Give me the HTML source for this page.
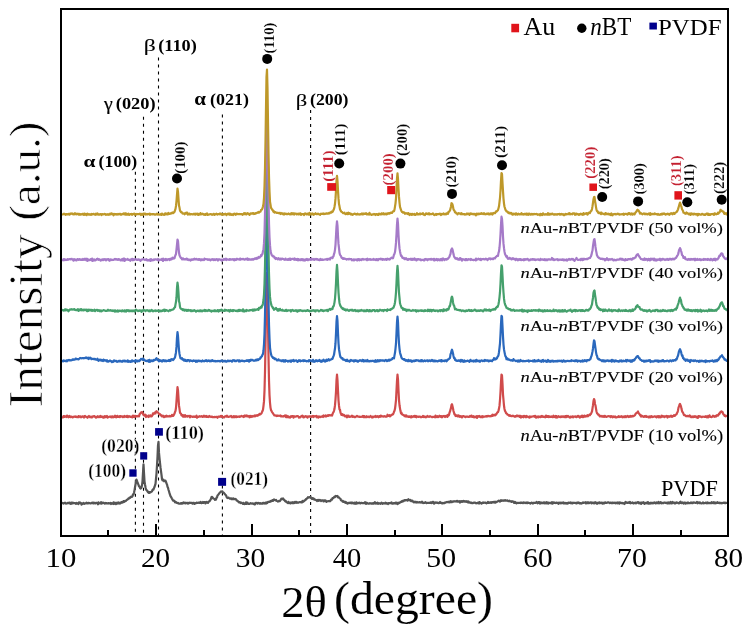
<!DOCTYPE html><html><head><meta charset="utf-8"><style>html,body{margin:0;padding:0;background:#fff;}svg{display:block;will-change:transform;}</style></head><body>
<svg width="745" height="626" viewBox="0 0 745 626" font-family='"Liberation Serif", serif'>
<rect width="745" height="626" fill="#fff"/>
<line x1="135.4" y1="171.8" x2="135.4" y2="535" stroke="#000" stroke-width="1.1" stroke-dasharray="3,4"/>
<line x1="143.5" y1="116.7" x2="143.5" y2="535" stroke="#000" stroke-width="1.1" stroke-dasharray="3,4"/>
<line x1="158.5" y1="57.4" x2="158.5" y2="535" stroke="#000" stroke-width="1.1" stroke-dasharray="3,4"/>
<line x1="222.4" y1="114.4" x2="222.4" y2="535" stroke="#000" stroke-width="1.1" stroke-dasharray="3,4"/>
<line x1="310.6" y1="110.0" x2="310.6" y2="535" stroke="#000" stroke-width="1.1" stroke-dasharray="3,4"/>
<polyline fill="none" stroke="#555555" stroke-width="2.2" stroke-linejoin="round" points="62.0,502.98 62.5,502.97 63.0,503.23 63.5,503.62 64.0,503.07 64.5,503.25 65.0,502.61 65.5,503.24 66.0,503.66 66.5,503.52 67.0,503.39 67.5,502.98 68.0,502.80 68.5,503.16 69.0,502.66 69.5,502.70 70.0,503.57 70.5,502.83 71.0,503.92 71.5,502.62 72.0,503.37 72.5,502.73 73.0,503.27 73.5,502.78 74.0,503.21 74.5,503.13 75.0,503.01 75.5,503.40 76.0,503.80 76.5,502.96 77.0,503.55 77.5,503.23 78.0,503.18 78.5,504.07 79.0,502.32 79.5,502.92 80.0,502.47 80.5,503.07 81.0,503.10 81.5,504.72 82.0,503.33 82.5,503.92 83.0,503.72 83.5,503.02 84.0,503.39 84.5,503.86 85.0,503.26 85.5,503.28 86.0,503.40 86.5,502.59 87.0,502.87 87.5,503.33 88.0,503.41 88.5,502.83 89.0,503.07 89.5,503.15 90.0,503.13 90.5,503.47 91.0,503.24 91.5,503.26 92.0,502.63 92.5,502.77 93.0,503.32 93.5,502.55 94.0,503.30 94.5,502.93 95.0,502.87 95.5,503.45 96.0,502.92 96.5,502.85 97.0,502.92 97.5,503.22 98.0,504.30 98.5,502.34 99.0,503.19 99.5,503.10 100.0,503.58 100.5,503.04 101.0,502.20 101.5,503.73 102.0,502.76 102.5,503.18 103.0,502.66 103.5,502.78 104.0,503.03 104.5,503.58 105.0,503.58 105.5,503.01 106.0,503.46 106.5,503.11 107.0,503.31 107.5,503.34 108.0,503.53 108.5,503.04 109.0,503.23 109.5,503.38 110.0,503.33 110.5,502.97 111.0,503.98 111.5,503.10 112.0,503.58 112.5,503.35 113.0,503.75 113.5,502.37 114.0,504.06 114.5,503.13 115.0,502.70 115.5,503.23 116.0,504.07 116.5,503.35 117.0,502.63 117.5,502.91 118.0,503.61 118.5,502.46 119.0,502.89 119.5,502.76 120.0,503.66 120.5,502.56 121.0,503.08 121.5,502.14 122.0,501.95 122.5,502.52 123.0,502.21 123.5,501.10 124.0,501.88 124.5,501.70 125.0,500.97 125.5,501.05 126.0,500.78 126.5,500.17 127.0,499.79 127.5,499.41 128.0,499.20 128.5,498.40 129.0,498.53 129.5,497.56 130.0,497.83 130.5,497.40 131.0,496.64 131.5,496.98 132.0,496.93 132.5,496.10 133.0,494.34 133.5,494.58 134.0,492.82 134.5,490.36 135.0,487.25 135.5,484.54 136.0,481.65 136.5,479.57 137.0,480.83 137.5,482.46 138.0,483.63 138.5,484.96 139.0,486.45 139.5,486.47 140.0,488.02 140.5,488.56 141.0,488.28 141.5,487.51 142.0,485.30 142.5,481.27 143.0,472.71 143.5,464.27 144.0,472.96 144.5,481.30 145.0,484.51 145.5,487.27 146.0,489.43 146.5,490.03 147.0,490.44 147.5,491.45 148.0,492.27 148.5,491.84 149.0,492.91 149.5,492.86 150.0,492.19 150.5,492.33 151.0,491.97 151.5,491.80 152.0,491.29 152.5,489.92 153.0,489.29 153.5,489.49 154.0,488.14 154.5,487.01 155.0,485.38 155.5,483.82 156.0,478.68 156.5,473.55 157.0,465.66 157.5,456.71 158.0,445.35 158.5,441.91 159.0,452.90 159.5,458.01 160.0,462.79 160.5,467.47 161.0,471.04 161.5,474.87 162.0,479.00 162.5,480.37 163.0,479.97 163.5,479.70 164.0,481.27 164.5,480.87 165.0,480.73 165.5,480.67 166.0,481.82 166.5,483.44 167.0,484.38 167.5,486.83 168.0,487.83 168.5,489.83 169.0,491.25 169.5,493.13 170.0,494.64 170.5,496.13 171.0,496.89 171.5,497.78 172.0,498.83 172.5,499.51 173.0,500.63 173.5,500.48 174.0,500.56 174.5,501.32 175.0,502.25 175.5,501.78 176.0,502.33 176.5,502.44 177.0,502.98 177.5,503.12 178.0,502.84 178.5,503.16 179.0,503.66 179.5,503.72 180.0,503.65 180.5,503.62 181.0,503.14 181.5,503.13 182.0,503.63 182.5,502.79 183.0,503.23 183.5,502.50 184.0,503.08 184.5,502.94 185.0,502.73 185.5,503.43 186.0,502.89 186.5,503.03 187.0,503.06 187.5,502.86 188.0,503.70 188.5,502.93 189.0,503.19 189.5,502.58 190.0,502.90 190.5,502.95 191.0,502.94 191.5,502.82 192.0,503.09 192.5,503.64 193.0,502.96 193.5,502.94 194.0,502.82 194.5,503.97 195.0,503.59 195.5,503.15 196.0,503.20 196.5,502.62 197.0,502.82 197.5,502.95 198.0,502.89 198.5,502.48 199.0,502.49 199.5,502.99 200.0,502.88 200.5,501.90 201.0,502.75 201.5,503.19 202.0,502.41 202.5,502.73 203.0,502.03 203.5,502.91 204.0,502.11 204.5,502.03 205.0,502.37 205.5,503.41 206.0,502.19 206.5,501.89 207.0,502.53 207.5,502.38 208.0,502.88 208.5,501.64 209.0,501.37 209.5,501.31 210.0,500.67 210.5,499.59 211.0,498.84 211.5,497.00 212.0,496.87 212.5,497.27 213.0,498.12 213.5,498.59 214.0,498.83 214.5,499.00 215.0,499.81 215.5,499.50 216.0,499.59 216.5,497.65 217.0,497.49 217.5,495.51 218.0,495.02 218.5,494.36 219.0,493.80 219.5,492.97 220.0,492.46 220.5,492.08 221.0,491.47 221.5,491.63 222.0,491.26 222.5,491.48 223.0,492.46 223.5,492.54 224.0,493.09 224.5,493.63 225.0,494.22 225.5,495.04 226.0,495.21 226.5,496.72 227.0,497.59 227.5,498.01 228.0,497.76 228.5,497.51 229.0,498.08 229.5,498.40 230.0,498.73 230.5,498.38 231.0,498.38 231.5,499.16 232.0,498.35 232.5,499.11 233.0,499.15 233.5,498.39 234.0,499.18 234.5,499.03 235.0,499.08 235.5,498.95 236.0,499.31 236.5,500.37 237.0,500.45 237.5,501.19 238.0,501.18 238.5,501.96 239.0,502.38 239.5,502.13 240.0,502.17 240.5,503.07 241.0,503.02 241.5,502.65 242.0,503.03 242.5,503.39 243.0,503.90 243.5,502.86 244.0,503.50 244.5,504.13 245.0,503.35 245.5,503.94 246.0,502.36 246.5,503.98 247.0,503.42 247.5,502.70 248.0,503.77 248.5,503.89 249.0,503.96 249.5,503.96 250.0,503.48 250.5,503.19 251.0,503.30 251.5,503.47 252.0,503.65 252.5,503.29 253.0,503.50 253.5,503.82 254.0,503.60 254.5,504.37 255.0,504.31 255.5,502.99 256.0,503.21 256.5,502.90 257.0,502.95 257.5,503.62 258.0,502.99 258.5,502.96 259.0,503.25 259.5,503.66 260.0,503.19 260.5,503.17 261.0,503.65 261.5,503.46 262.0,503.43 262.5,503.60 263.0,502.80 263.5,503.26 264.0,502.90 264.5,503.54 265.0,503.42 265.5,502.65 266.0,503.52 266.5,502.41 267.0,503.19 267.5,502.64 268.0,502.03 268.5,501.74 269.0,501.88 269.5,501.80 270.0,501.36 270.5,501.71 271.0,500.78 271.5,501.17 272.0,501.01 272.5,500.09 273.0,500.79 273.5,500.00 274.0,499.37 274.5,500.00 275.0,500.07 275.5,500.46 276.0,499.90 276.5,500.81 277.0,501.06 277.5,501.22 278.0,501.58 278.5,501.32 279.0,500.90 279.5,501.14 280.0,500.90 280.5,500.17 281.0,499.53 281.5,498.61 282.0,499.20 282.5,498.93 283.0,498.35 283.5,499.20 284.0,499.90 284.5,500.12 285.0,501.05 285.5,501.59 286.0,501.16 286.5,501.93 287.0,502.41 287.5,502.73 288.0,503.07 288.5,501.85 289.0,502.68 289.5,503.05 290.0,503.28 290.5,503.46 291.0,502.41 291.5,502.62 292.0,502.34 292.5,503.08 293.0,502.20 293.5,503.18 294.0,503.06 294.5,502.86 295.0,501.77 295.5,502.33 296.0,502.87 296.5,501.97 297.0,502.40 297.5,502.41 298.0,502.76 298.5,502.48 299.0,502.42 299.5,502.09 300.0,502.21 300.5,502.10 301.0,502.39 301.5,501.94 302.0,502.28 302.5,500.97 303.0,501.86 303.5,501.00 304.0,501.17 304.5,500.38 305.0,500.30 305.5,500.17 306.0,498.96 306.5,498.84 307.0,498.40 307.5,498.23 308.0,497.22 308.5,497.58 309.0,497.39 309.5,497.09 310.0,497.32 310.5,496.86 311.0,498.19 311.5,498.03 312.0,498.86 312.5,498.06 313.0,498.25 313.5,499.14 314.0,498.66 314.5,499.69 315.0,499.55 315.5,499.87 316.0,500.20 316.5,500.19 317.0,500.98 317.5,500.54 318.0,499.81 318.5,500.76 319.0,499.87 319.5,500.48 320.0,499.97 320.5,500.17 321.0,501.06 321.5,500.35 322.0,500.35 322.5,500.42 323.0,500.56 323.5,501.32 324.0,500.33 324.5,500.38 325.0,501.21 325.5,500.45 326.0,501.06 326.5,501.77 327.0,501.40 327.5,501.27 328.0,501.20 328.5,501.07 329.0,501.06 329.5,501.14 330.0,501.30 330.5,500.85 331.0,499.86 331.5,499.38 332.0,499.52 332.5,498.07 333.0,498.19 333.5,497.81 334.0,497.11 334.5,496.80 335.0,497.03 335.5,495.98 336.0,496.11 336.5,496.13 337.0,496.44 337.5,496.02 338.0,497.28 338.5,497.11 339.0,497.59 339.5,498.05 340.0,498.47 340.5,498.89 341.0,500.27 341.5,500.39 342.0,500.69 342.5,501.47 343.0,501.04 343.5,501.82 344.0,501.82 344.5,501.69 345.0,502.58 345.5,501.88 346.0,502.93 346.5,502.47 347.0,503.11 347.5,503.58 348.0,503.30 348.5,502.84 349.0,503.07 349.5,502.94 350.0,502.63 350.5,502.66 351.0,503.13 351.5,503.33 352.0,502.42 352.5,503.10 353.0,503.33 353.5,503.18 354.0,502.74 354.5,503.56 355.0,502.67 355.5,503.41 356.0,503.80 356.5,502.35 357.0,503.27 357.5,503.30 358.0,503.27 358.5,502.87 359.0,503.06 359.5,502.63 360.0,503.24 360.5,503.41 361.0,502.93 361.5,502.83 362.0,503.02 362.5,503.20 363.0,503.23 363.5,503.17 364.0,503.24 364.5,502.70 365.0,502.13 365.5,503.47 366.0,503.79 366.5,502.66 367.0,502.96 367.5,503.35 368.0,503.61 368.5,503.49 369.0,503.74 369.5,503.22 370.0,503.40 370.5,503.40 371.0,503.07 371.5,503.72 372.0,503.49 372.5,503.64 373.0,503.09 373.5,503.66 374.0,502.83 374.5,503.41 375.0,502.21 375.5,502.85 376.0,503.55 376.5,503.08 377.0,503.32 377.5,502.61 378.0,503.87 378.5,503.49 379.0,503.25 379.5,503.42 380.0,503.39 380.5,503.82 381.0,503.34 381.5,502.68 382.0,503.16 382.5,503.77 383.0,503.49 383.5,503.09 384.0,503.50 384.5,503.31 385.0,503.50 385.5,502.63 386.0,502.90 386.5,503.52 387.0,503.17 387.5,503.39 388.0,504.02 388.5,503.12 389.0,503.33 389.5,503.01 390.0,502.98 390.5,503.19 391.0,502.63 391.5,502.36 392.0,503.73 392.5,503.14 393.0,503.61 393.5,503.20 394.0,503.20 394.5,503.40 395.0,503.40 395.5,502.63 396.0,503.57 396.5,502.69 397.0,503.14 397.5,504.03 398.0,502.97 398.5,503.50 399.0,502.58 399.5,502.81 400.0,502.42 400.5,502.38 401.0,501.68 401.5,501.46 402.0,501.75 402.5,500.79 403.0,500.86 403.5,501.25 404.0,500.56 404.5,500.27 405.0,500.01 405.5,500.36 406.0,500.03 406.5,500.14 407.0,499.93 407.5,500.70 408.0,499.79 408.5,499.23 409.0,500.13 409.5,500.20 410.0,500.41 410.5,499.88 411.0,501.15 411.5,500.89 412.0,501.10 412.5,500.70 413.0,501.71 413.5,501.69 414.0,502.43 414.5,501.89 415.0,501.70 415.5,502.34 416.0,501.99 416.5,502.54 417.0,501.97 417.5,502.37 418.0,502.35 418.5,502.44 419.0,502.27 419.5,502.18 420.0,502.49 420.5,502.30 421.0,502.61 421.5,502.46 422.0,501.70 422.5,502.57 423.0,503.16 423.5,502.75 424.0,502.88 424.5,502.84 425.0,502.49 425.5,502.16 426.0,503.01 426.5,503.12 427.0,502.94 427.5,502.90 428.0,502.89 428.5,502.74 429.0,502.87 429.5,502.77 430.0,502.90 430.5,502.41 431.0,502.55 431.5,503.02 432.0,502.67 432.5,501.87 433.0,502.87 433.5,501.93 434.0,503.58 434.5,503.12 435.0,503.10 435.5,502.58 436.0,502.41 436.5,502.77 437.0,502.86 437.5,502.55 438.0,502.92 438.5,503.13 439.0,503.09 439.5,502.46 440.0,502.02 440.5,502.86 441.0,502.60 441.5,503.01 442.0,503.45 442.5,503.42 443.0,502.85 443.5,503.12 444.0,503.27 444.5,502.59 445.0,502.61 445.5,502.77 446.0,502.35 446.5,502.10 447.0,501.92 447.5,502.14 448.0,501.82 448.5,502.29 449.0,501.78 449.5,502.40 450.0,502.23 450.5,501.22 451.0,502.05 451.5,501.42 452.0,502.05 452.5,501.68 453.0,501.42 453.5,501.67 454.0,501.17 454.5,501.50 455.0,501.52 455.5,501.31 456.0,501.52 456.5,500.98 457.0,501.59 457.5,500.90 458.0,501.61 458.5,501.55 459.0,501.64 459.5,501.16 460.0,502.54 460.5,501.28 461.0,501.43 461.5,501.08 462.0,501.92 462.5,501.19 463.0,501.76 463.5,501.01 464.0,501.49 464.5,501.23 465.0,501.75 465.5,501.33 466.0,501.19 466.5,501.81 467.0,501.31 467.5,501.54 468.0,502.36 468.5,501.50 469.0,502.67 469.5,502.36 470.0,502.29 470.5,502.84 471.0,503.07 471.5,502.65 472.0,502.81 472.5,503.19 473.0,503.17 473.5,502.86 474.0,502.58 474.5,502.51 475.0,502.64 475.5,503.13 476.0,503.09 476.5,502.98 477.0,503.39 477.5,502.73 478.0,502.70 478.5,502.69 479.0,503.56 479.5,502.03 480.0,502.93 480.5,502.98 481.0,502.82 481.5,503.68 482.0,503.22 482.5,503.06 483.0,502.41 483.5,502.93 484.0,502.59 484.5,502.74 485.0,502.78 485.5,502.51 486.0,502.92 486.5,503.28 487.0,503.04 487.5,502.71 488.0,501.88 488.5,503.01 489.0,502.99 489.5,502.49 490.0,502.36 490.5,502.78 491.0,502.20 491.5,502.79 492.0,502.05 492.5,502.09 493.0,502.43 493.5,501.84 494.0,502.37 494.5,502.52 495.0,501.74 495.5,502.50 496.0,501.82 496.5,502.12 497.0,501.87 497.5,501.47 498.0,501.31 498.5,500.71 499.0,500.96 499.5,500.79 500.0,501.58 500.5,501.22 501.0,500.21 501.5,500.95 502.0,500.66 502.5,500.38 503.0,500.67 503.5,500.80 504.0,500.29 504.5,500.42 505.0,500.61 505.5,500.21 506.0,500.69 506.5,500.64 507.0,500.46 507.5,500.46 508.0,500.96 508.5,501.24 509.0,501.10 509.5,500.72 510.0,501.41 510.5,501.27 511.0,501.51 511.5,501.81 512.0,501.12 512.5,501.55 513.0,501.56 513.5,501.66 514.0,502.97 514.5,502.77 515.0,501.93 515.5,502.92 516.0,502.65 516.5,503.33 517.0,502.93 517.5,502.83 518.0,502.95 518.5,503.04 519.0,502.91 519.5,502.82 520.0,502.85 520.5,503.09 521.0,502.47 521.5,502.90 522.0,502.85 522.5,502.72 523.0,503.18 523.5,502.41 524.0,502.76 524.5,502.58 525.0,503.11 525.5,502.72 526.0,502.92 526.5,503.05 527.0,502.30 527.5,503.07 528.0,502.62 528.5,502.80 529.0,502.86 529.5,503.21 530.0,503.18 530.5,503.57 531.0,502.97 531.5,502.72 532.0,502.71 532.5,503.15 533.0,503.51 533.5,503.03 534.0,502.68 534.5,503.00 535.0,503.00 535.5,502.91 536.0,502.62 536.5,501.94 537.0,502.70 537.5,503.30 538.0,502.98 538.5,502.06 539.0,502.90 539.5,502.20 540.0,503.65 540.5,502.97 541.0,502.44 541.5,503.20 542.0,502.60 542.5,503.11 543.0,502.91 543.5,502.45 544.0,503.15 544.5,502.39 545.0,503.41 545.5,502.92 546.0,502.51 546.5,502.21 547.0,503.51 547.5,503.45 548.0,502.42 548.5,503.52 549.0,502.96 549.5,502.82 550.0,502.87 550.5,502.80 551.0,503.44 551.5,502.96 552.0,502.20 552.5,503.69 553.0,503.23 553.5,502.49 554.0,502.77 554.5,502.56 555.0,502.92 555.5,503.05 556.0,502.99 556.5,502.67 557.0,502.60 557.5,503.22 558.0,502.86 558.5,503.75 559.0,502.59 559.5,503.20 560.0,502.92 560.5,502.61 561.0,503.42 561.5,502.95 562.0,502.56 562.5,502.78 563.0,503.28 563.5,502.44 564.0,503.42 564.5,503.16 565.0,502.79 565.5,503.41 566.0,503.56 566.5,503.13 567.0,502.96 567.5,503.60 568.0,503.47 568.5,502.55 569.0,502.82 569.5,502.82 570.0,502.74 570.5,502.33 571.0,503.24 571.5,502.93 572.0,502.94 572.5,503.43 573.0,502.69 573.5,502.88 574.0,503.00 574.5,502.74 575.0,502.86 575.5,503.19 576.0,502.90 576.5,503.41 577.0,502.61 577.5,502.98 578.0,502.36 578.5,502.86 579.0,502.63 579.5,503.42 580.0,503.18 580.5,503.09 581.0,503.60 581.5,503.45 582.0,503.17 582.5,502.64 583.0,502.35 583.5,502.89 584.0,502.76 584.5,502.65 585.0,502.79 585.5,502.27 586.0,503.47 586.5,502.47 587.0,502.64 587.5,503.12 588.0,502.28 588.5,503.25 589.0,503.26 589.5,502.78 590.0,502.49 590.5,502.72 591.0,502.19 591.5,503.43 592.0,502.92 592.5,502.62 593.0,502.55 593.5,503.12 594.0,503.47 594.5,502.41 595.0,502.68 595.5,502.23 596.0,503.16 596.5,502.96 597.0,503.76 597.5,502.85 598.0,502.73 598.5,502.63 599.0,503.23 599.5,502.28 600.0,503.19 600.5,502.99 601.0,502.71 601.5,502.55 602.0,503.30 602.5,503.61 603.0,502.73 603.5,503.10 604.0,503.57 604.5,502.66 605.0,502.80 605.5,502.43 606.0,502.84 606.5,502.87 607.0,502.74 607.5,502.62 608.0,502.29 608.5,502.38 609.0,502.52 609.5,503.15 610.0,502.70 610.5,502.57 611.0,503.15 611.5,503.12 612.0,502.61 612.5,502.66 613.0,503.15 613.5,503.04 614.0,502.58 614.5,502.99 615.0,502.89 615.5,503.33 616.0,502.57 616.5,503.24 617.0,503.07 617.5,502.51 618.0,503.31 618.5,503.25 619.0,502.39 619.5,503.66 620.0,502.46 620.5,502.55 621.0,502.78 621.5,503.20 622.0,503.13 622.5,502.86 623.0,503.43 623.5,503.06 624.0,503.44 624.5,503.99 625.0,502.97 625.5,501.90 626.0,502.72 626.5,502.48 627.0,502.94 627.5,502.94 628.0,502.42 628.5,502.45 629.0,502.80 629.5,502.82 630.0,501.89 630.5,503.28 631.0,502.91 631.5,502.90 632.0,503.02 632.5,502.50 633.0,502.88 633.5,503.31 634.0,503.32 634.5,503.08 635.0,502.79 635.5,502.58 636.0,503.42 636.5,503.11 637.0,502.73 637.5,502.05 638.0,502.56 638.5,502.14 639.0,503.39 639.5,502.97 640.0,502.61 640.5,502.79 641.0,503.92 641.5,503.38 642.0,502.37 642.5,502.85 643.0,502.41 643.5,502.22 644.0,502.97 644.5,503.85 645.0,503.52 645.5,502.92 646.0,502.75 646.5,502.98 647.0,503.31 647.5,502.32 648.0,502.16 648.5,503.64 649.0,503.01 649.5,503.54 650.0,502.99 650.5,503.48 651.0,502.65 651.5,503.09 652.0,503.51 652.5,503.30 653.0,502.71 653.5,503.25 654.0,502.63 654.5,502.32 655.0,503.10 655.5,503.45 656.0,503.23 656.5,502.39 657.0,503.24 657.5,503.16 658.0,502.70 658.5,501.89 659.0,503.29 659.5,503.24 660.0,503.09 660.5,502.19 661.0,502.29 661.5,503.29 662.0,503.21 662.5,503.08 663.0,502.78 663.5,503.04 664.0,502.66 664.5,502.75 665.0,502.53 665.5,502.98 666.0,502.71 666.5,503.26 667.0,503.16 667.5,502.55 668.0,503.61 668.5,502.42 669.0,503.05 669.5,503.31 670.0,503.39 670.5,501.98 671.0,503.27 671.5,503.36 672.0,503.45 672.5,501.97 673.0,502.59 673.5,502.82 674.0,502.68 674.5,503.40 675.0,502.58 675.5,503.35 676.0,503.08 676.5,502.27 677.0,502.45 677.5,502.66 678.0,502.89 678.5,503.25 679.0,502.78 679.5,503.22 680.0,502.21 680.5,501.61 681.0,502.71 681.5,503.03 682.0,502.70 682.5,502.43 683.0,503.01 683.5,503.62 684.0,502.80 684.5,502.54 685.0,502.49 685.5,503.63 686.0,502.82 686.5,503.08 687.0,503.32 687.5,503.26 688.0,502.45 688.5,503.21 689.0,503.17 689.5,503.02 690.0,503.23 690.5,502.59 691.0,502.79 691.5,502.60 692.0,503.12 692.5,502.55 693.0,502.97 693.5,502.37 694.0,502.76 694.5,502.66 695.0,502.76 695.5,502.86 696.0,502.73 696.5,502.71 697.0,501.96 697.5,503.25 698.0,502.55 698.5,502.70 699.0,502.46 699.5,503.20 700.0,502.43 700.5,502.99 701.0,503.27 701.5,503.45 702.0,503.27 702.5,503.03 703.0,502.30 703.5,503.30 704.0,503.26 704.5,503.12 705.0,503.10 705.5,502.81 706.0,502.57 706.5,503.21 707.0,503.29 707.5,502.35 708.0,503.14 708.5,502.87 709.0,503.12 709.5,502.88 710.0,503.21 710.5,503.18 711.0,503.12 711.5,502.20 712.0,503.09 712.5,502.78 713.0,502.30 713.5,503.04 714.0,502.20 714.5,503.11 715.0,503.43 715.5,502.55 716.0,503.12 716.5,502.93 717.0,503.01 717.5,502.20 718.0,502.99 718.5,502.79 719.0,503.04 719.5,502.74 720.0,503.18 720.5,502.84 721.0,503.00 721.5,503.28 722.0,502.80 722.5,503.13 723.0,502.82 723.5,502.93 724.0,502.51 724.5,503.03 725.0,503.21 725.5,502.69 726.0,503.03 726.5,502.89 727.0,502.27"/>
<polyline fill="none" stroke="#d04b4b" stroke-width="2.2" stroke-linejoin="round" points="62.0,416.37 62.5,417.50 63.0,417.38 63.5,416.06 64.0,416.18 64.5,416.96 65.0,416.25 65.5,416.67 66.0,416.58 66.5,417.04 67.0,415.65 67.5,415.80 68.0,416.24 68.5,417.24 69.0,416.72 69.5,416.02 70.0,417.01 70.5,417.11 71.0,416.68 71.5,416.64 72.0,416.98 72.5,417.33 73.0,416.86 73.5,417.03 74.0,416.76 74.5,416.61 75.0,416.37 75.5,416.90 76.0,416.65 76.5,416.68 77.0,417.20 77.5,417.00 78.0,417.18 78.5,416.08 79.0,417.04 79.5,416.52 80.0,416.42 80.5,416.40 81.0,417.33 81.5,417.16 82.0,416.46 82.5,416.27 83.0,416.79 83.5,416.58 84.0,417.53 84.5,416.13 85.0,415.96 85.5,416.67 86.0,416.79 86.5,416.84 87.0,417.12 87.5,417.72 88.0,416.63 88.5,416.54 89.0,415.99 89.5,416.89 90.0,417.17 90.5,416.66 91.0,417.31 91.5,416.79 92.0,417.46 92.5,416.93 93.0,416.30 93.5,416.49 94.0,416.09 94.5,416.00 95.0,416.90 95.5,417.17 96.0,417.66 96.5,416.75 97.0,416.67 97.5,416.28 98.0,417.22 98.5,416.95 99.0,416.51 99.5,417.09 100.0,417.03 100.5,415.93 101.0,417.11 101.5,416.84 102.0,416.60 102.5,416.59 103.0,417.56 103.5,417.46 104.0,417.59 104.5,416.26 105.0,416.48 105.5,417.18 106.0,416.23 106.5,416.45 107.0,415.96 107.5,417.60 108.0,417.25 108.5,416.97 109.0,416.87 109.5,416.58 110.0,416.59 110.5,417.04 111.0,416.45 111.5,417.32 112.0,416.54 112.5,416.37 113.0,417.35 113.5,416.70 114.0,417.01 114.5,416.57 115.0,415.75 115.5,417.00 116.0,416.15 116.5,417.24 117.0,416.06 117.5,415.92 118.0,416.89 118.5,416.94 119.0,416.80 119.5,416.20 120.0,417.15 120.5,416.09 121.0,416.54 121.5,416.39 122.0,416.57 122.5,417.12 123.0,416.45 123.5,416.99 124.0,417.05 124.5,415.96 125.0,416.20 125.5,416.55 126.0,416.46 126.5,416.86 127.0,415.85 127.5,417.04 128.0,417.04 128.5,416.63 129.0,416.08 129.5,416.70 130.0,416.45 130.5,416.94 131.0,416.64 131.5,416.99 132.0,416.46 132.5,417.29 133.0,415.60 133.5,416.16 134.0,416.82 134.5,415.90 135.0,416.89 135.5,415.98 136.0,416.53 136.5,416.03 137.0,416.18 137.5,416.34 138.0,416.05 138.5,415.64 139.0,416.34 139.5,414.75 140.0,413.49 140.5,413.40 141.0,412.50 141.5,412.23 142.0,412.68 142.5,412.17 143.0,413.99 143.5,414.89 144.0,415.07 144.5,415.68 145.0,414.54 145.5,415.82 146.0,416.99 146.5,415.44 147.0,416.04 147.5,416.42 148.0,416.54 148.5,417.00 149.0,415.43 149.5,416.19 150.0,416.47 150.5,415.37 151.0,415.78 151.5,416.44 152.0,415.90 152.5,415.21 153.0,413.38 153.5,414.02 154.0,413.72 154.5,412.86 155.0,412.45 155.5,413.43 156.0,411.66 156.5,411.25 157.0,411.95 157.5,412.05 158.0,412.53 158.5,413.17 159.0,414.10 159.5,414.37 160.0,414.17 160.5,415.04 161.0,415.62 161.5,415.45 162.0,416.37 162.5,416.34 163.0,415.65 163.5,416.32 164.0,417.12 164.5,416.96 165.0,416.26 165.5,416.70 166.0,416.00 166.5,415.65 167.0,416.55 167.5,416.40 168.0,416.50 168.5,416.23 169.0,416.35 169.5,415.93 170.0,416.32 170.5,416.41 171.0,415.92 171.5,416.19 172.0,414.88 172.5,415.13 173.0,415.88 173.5,415.68 174.0,414.51 174.5,413.63 175.0,411.98 175.5,410.82 176.0,407.71 176.5,401.05 177.0,393.72 177.5,387.18 178.0,390.34 178.5,398.16 179.0,405.69 179.5,408.90 180.0,412.60 180.5,413.38 181.0,413.65 181.5,415.35 182.0,415.67 182.5,415.15 183.0,416.66 183.5,415.38 184.0,416.11 184.5,416.61 185.0,415.14 185.5,416.68 186.0,416.26 186.5,416.33 187.0,415.90 187.5,416.57 188.0,415.95 188.5,416.04 189.0,416.30 189.5,415.97 190.0,417.25 190.5,415.96 191.0,416.23 191.5,416.44 192.0,416.60 192.5,416.96 193.0,416.98 193.5,416.49 194.0,416.46 194.5,416.65 195.0,417.01 195.5,416.96 196.0,416.42 196.5,415.73 197.0,417.63 197.5,417.10 198.0,416.79 198.5,416.83 199.0,416.45 199.5,416.23 200.0,416.54 200.5,416.59 201.0,416.41 201.5,416.04 202.0,416.55 202.5,416.96 203.0,416.48 203.5,416.71 204.0,415.77 204.5,416.61 205.0,416.65 205.5,416.15 206.0,415.93 206.5,416.89 207.0,416.34 207.5,416.93 208.0,416.52 208.5,416.99 209.0,416.56 209.5,416.03 210.0,416.67 210.5,416.57 211.0,417.01 211.5,416.51 212.0,416.54 212.5,417.10 213.0,417.24 213.5,417.06 214.0,417.18 214.5,416.92 215.0,417.06 215.5,417.11 216.0,416.89 216.5,416.74 217.0,416.78 217.5,417.79 218.0,416.72 218.5,416.60 219.0,416.55 219.5,416.69 220.0,416.82 220.5,416.20 221.0,415.82 221.5,416.84 222.0,415.98 222.5,416.82 223.0,416.77 223.5,417.22 224.0,417.45 224.5,416.86 225.0,416.45 225.5,416.17 226.0,416.34 226.5,416.71 227.0,415.76 227.5,416.72 228.0,416.68 228.5,416.98 229.0,416.53 229.5,416.73 230.0,416.35 230.5,416.47 231.0,415.88 231.5,416.73 232.0,417.37 232.5,416.74 233.0,416.83 233.5,416.22 234.0,417.30 234.5,416.31 235.0,417.01 235.5,416.69 236.0,416.21 236.5,417.10 237.0,416.64 237.5,416.71 238.0,416.83 238.5,416.61 239.0,416.44 239.5,416.82 240.0,416.42 240.5,416.62 241.0,416.29 241.5,415.91 242.0,416.27 242.5,416.34 243.0,416.56 243.5,417.08 244.0,415.77 244.5,416.58 245.0,415.52 245.5,416.03 246.0,416.26 246.5,415.46 247.0,415.62 247.5,416.51 248.0,416.46 248.5,416.35 249.0,416.02 249.5,417.33 250.0,416.26 250.5,415.92 251.0,417.03 251.5,416.52 252.0,416.04 252.5,416.70 253.0,416.19 253.5,416.36 254.0,416.12 254.5,415.49 255.0,416.32 255.5,415.88 256.0,415.26 256.5,415.27 257.0,415.93 257.5,415.20 258.0,415.22 258.5,415.31 259.0,414.85 259.5,413.84 260.0,414.48 260.5,414.22 261.0,413.69 261.5,413.39 262.0,412.00 262.5,411.04 263.0,409.68 263.5,405.85 264.0,401.15 264.5,390.59 265.0,371.92 265.5,345.10 266.0,311.10 266.5,280.69 267.0,272.90 267.5,291.58 268.0,324.63 268.5,356.30 269.0,380.54 269.5,395.05 270.0,402.74 270.5,407.61 271.0,410.08 271.5,410.87 272.0,412.00 272.5,412.76 273.0,413.23 273.5,414.12 274.0,414.79 274.5,415.48 275.0,415.42 275.5,415.55 276.0,415.78 276.5,416.01 277.0,415.37 277.5,415.96 278.0,415.89 278.5,415.78 279.0,415.70 279.5,415.75 280.0,415.91 280.5,415.53 281.0,416.37 281.5,416.16 282.0,416.26 282.5,416.40 283.0,416.60 283.5,416.04 284.0,416.28 284.5,415.63 285.0,415.38 285.5,415.52 286.0,417.11 286.5,415.61 287.0,416.66 287.5,417.13 288.0,416.27 288.5,417.22 289.0,417.33 289.5,416.94 290.0,417.59 290.5,416.81 291.0,416.21 291.5,416.78 292.0,416.36 292.5,415.98 293.0,416.00 293.5,417.62 294.0,416.34 294.5,416.58 295.0,416.30 295.5,416.66 296.0,416.50 296.5,416.42 297.0,416.07 297.5,415.98 298.0,416.29 298.5,416.76 299.0,417.56 299.5,417.10 300.0,417.45 300.5,416.85 301.0,416.60 301.5,416.04 302.0,416.64 302.5,415.68 303.0,416.51 303.5,417.38 304.0,416.80 304.5,417.16 305.0,416.48 305.5,416.03 306.0,416.43 306.5,416.47 307.0,417.19 307.5,417.54 308.0,416.32 308.5,416.49 309.0,416.58 309.5,416.49 310.0,416.09 310.5,416.69 311.0,416.81 311.5,416.81 312.0,416.10 312.5,416.59 313.0,415.85 313.5,417.04 314.0,416.17 314.5,416.50 315.0,416.42 315.5,416.35 316.0,416.13 316.5,415.81 317.0,417.38 317.5,416.71 318.0,416.70 318.5,417.52 319.0,416.52 319.5,416.81 320.0,416.56 320.5,417.07 321.0,416.75 321.5,416.65 322.0,416.38 322.5,416.60 323.0,416.98 323.5,415.50 324.0,416.35 324.5,416.19 325.0,416.22 325.5,415.43 326.0,416.61 326.5,415.85 327.0,416.08 327.5,415.89 328.0,415.29 328.5,415.76 329.0,415.03 329.5,415.32 330.0,415.45 330.5,415.41 331.0,415.22 331.5,414.84 332.0,415.50 332.5,414.25 333.0,412.85 333.5,412.19 334.0,410.80 334.5,408.86 335.0,405.16 335.5,399.34 336.0,391.76 336.5,380.44 337.0,374.61 337.5,380.31 338.0,390.92 338.5,400.35 339.0,405.65 339.5,409.45 340.0,409.69 340.5,412.62 341.0,413.88 341.5,414.95 342.0,414.56 342.5,414.14 343.0,415.46 343.5,415.15 344.0,414.79 344.5,415.47 345.0,416.34 345.5,416.51 346.0,416.37 346.5,415.65 347.0,417.32 347.5,415.71 348.0,416.25 348.5,415.67 349.0,416.95 349.5,416.59 350.0,416.82 350.5,416.48 351.0,416.43 351.5,416.56 352.0,415.65 352.5,416.96 353.0,416.94 353.5,416.37 354.0,416.55 354.5,416.70 355.0,417.28 355.5,416.78 356.0,416.61 356.5,416.37 357.0,415.93 357.5,416.35 358.0,416.65 358.5,416.51 359.0,416.67 359.5,416.97 360.0,416.84 360.5,416.77 361.0,416.94 361.5,416.74 362.0,416.64 362.5,416.87 363.0,415.88 363.5,417.23 364.0,416.08 364.5,417.04 365.0,416.67 365.5,417.17 366.0,416.68 366.5,416.24 367.0,417.15 367.5,416.75 368.0,416.72 368.5,416.71 369.0,417.12 369.5,417.04 370.0,416.77 370.5,415.97 371.0,416.48 371.5,416.71 372.0,417.47 372.5,416.83 373.0,416.61 373.5,417.19 374.0,416.60 374.5,416.63 375.0,416.71 375.5,415.96 376.0,417.07 376.5,416.82 377.0,416.50 377.5,416.10 378.0,416.71 378.5,417.23 379.0,416.31 379.5,416.11 380.0,416.77 380.5,415.85 381.0,415.55 381.5,416.34 382.0,416.22 382.5,416.39 383.0,416.24 383.5,416.62 384.0,416.35 384.5,416.16 385.0,416.19 385.5,416.65 386.0,416.76 386.5,416.70 387.0,416.56 387.5,414.71 388.0,415.68 388.5,415.92 389.0,416.06 389.5,415.14 390.0,416.39 390.5,415.74 391.0,415.14 391.5,415.27 392.0,414.75 392.5,414.19 393.0,414.27 393.5,413.17 394.0,411.80 394.5,410.76 395.0,408.82 395.5,404.83 396.0,400.11 396.5,390.25 397.0,380.80 397.5,374.69 398.0,379.59 398.5,390.80 399.0,400.08 399.5,405.24 400.0,408.34 400.5,411.10 401.0,413.34 401.5,412.71 402.0,414.30 402.5,414.54 403.0,414.86 403.5,415.02 404.0,415.28 404.5,416.07 405.0,416.02 405.5,415.43 406.0,416.68 406.5,415.48 407.0,416.44 407.5,416.28 408.0,416.79 408.5,416.46 409.0,416.82 409.5,416.37 410.0,416.85 410.5,416.59 411.0,417.43 411.5,416.17 412.0,417.04 412.5,416.73 413.0,416.62 413.5,416.30 414.0,416.77 414.5,415.92 415.0,415.98 415.5,416.92 416.0,415.91 416.5,417.27 417.0,416.51 417.5,416.75 418.0,416.68 418.5,416.84 419.0,416.53 419.5,416.50 420.0,416.61 420.5,417.14 421.0,417.18 421.5,417.25 422.0,416.85 422.5,416.59 423.0,415.93 423.5,416.98 424.0,417.07 424.5,416.51 425.0,417.06 425.5,417.28 426.0,416.74 426.5,417.18 427.0,416.84 427.5,415.92 428.0,416.49 428.5,416.52 429.0,416.94 429.5,416.31 430.0,416.50 430.5,416.27 431.0,416.68 431.5,416.73 432.0,417.14 432.5,417.05 433.0,416.77 433.5,416.80 434.0,416.74 434.5,416.74 435.0,417.38 435.5,415.56 436.0,416.60 436.5,416.81 437.0,417.17 437.5,416.17 438.0,416.81 438.5,417.03 439.0,416.43 439.5,415.76 440.0,416.45 440.5,416.06 441.0,416.88 441.5,416.18 442.0,417.35 442.5,416.59 443.0,416.13 443.5,416.24 444.0,415.93 444.5,416.55 445.0,416.99 445.5,416.15 446.0,416.58 446.5,415.63 447.0,416.05 447.5,416.76 448.0,414.83 448.5,415.63 449.0,415.00 449.5,412.69 450.0,411.47 450.5,409.62 451.0,407.91 451.5,404.86 452.0,404.25 452.5,406.23 453.0,408.60 453.5,411.06 454.0,412.61 454.5,414.47 455.0,414.39 455.5,416.00 456.0,415.42 456.5,415.44 457.0,416.26 457.5,416.30 458.0,415.31 458.5,416.37 459.0,415.73 459.5,416.02 460.0,416.79 460.5,416.08 461.0,416.66 461.5,416.35 462.0,417.41 462.5,416.52 463.0,416.05 463.5,416.09 464.0,416.20 464.5,416.67 465.0,416.62 465.5,417.07 466.0,416.71 466.5,416.70 467.0,416.79 467.5,416.59 468.0,416.79 468.5,417.01 469.0,417.01 469.5,416.42 470.0,415.87 470.5,416.30 471.0,416.79 471.5,415.55 472.0,416.45 472.5,416.87 473.0,416.41 473.5,416.16 474.0,417.45 474.5,417.28 475.0,416.54 475.5,417.25 476.0,417.24 476.5,416.14 477.0,417.85 477.5,416.22 478.0,416.52 478.5,416.14 479.0,416.66 479.5,416.03 480.0,416.61 480.5,417.10 481.0,416.70 481.5,416.48 482.0,417.28 482.5,416.17 483.0,417.00 483.5,416.42 484.0,416.64 484.5,416.54 485.0,416.57 485.5,416.47 486.0,416.13 486.5,416.20 487.0,416.64 487.5,416.37 488.0,415.86 488.5,416.04 489.0,416.01 489.5,416.26 490.0,416.32 490.5,416.23 491.0,415.84 491.5,416.08 492.0,415.38 492.5,414.61 493.0,415.79 493.5,414.95 494.0,415.12 494.5,414.84 495.0,415.45 495.5,414.37 496.0,414.71 496.5,413.95 497.0,413.07 497.5,412.20 498.0,412.11 498.5,410.63 499.0,408.61 499.5,405.68 500.0,399.72 500.5,392.02 501.0,382.15 501.5,374.67 502.0,375.46 502.5,383.78 503.0,394.53 503.5,399.99 504.0,405.77 504.5,408.97 505.0,410.86 505.5,411.70 506.0,412.98 506.5,413.54 507.0,413.77 507.5,414.63 508.0,414.78 508.5,414.96 509.0,415.71 509.5,415.09 510.0,415.91 510.5,415.55 511.0,416.11 511.5,416.04 512.0,416.18 512.5,415.70 513.0,415.84 513.5,415.85 514.0,416.36 514.5,416.65 515.0,416.84 515.5,416.16 516.0,416.45 516.5,415.71 517.0,415.46 517.5,416.08 518.0,416.19 518.5,415.81 519.0,415.72 519.5,416.78 520.0,416.19 520.5,415.80 521.0,417.61 521.5,416.66 522.0,416.45 522.5,416.90 523.0,416.26 523.5,417.32 524.0,415.93 524.5,416.04 525.0,416.57 525.5,416.29 526.0,417.27 526.5,415.93 527.0,416.32 527.5,416.76 528.0,416.91 528.5,417.11 529.0,416.82 529.5,417.66 530.0,416.46 530.5,416.75 531.0,417.06 531.5,416.54 532.0,416.55 532.5,416.47 533.0,416.40 533.5,416.18 534.0,416.44 534.5,416.00 535.0,416.86 535.5,415.98 536.0,417.62 536.5,417.46 537.0,417.19 537.5,416.60 538.0,416.44 538.5,417.25 539.0,416.78 539.5,416.95 540.0,416.38 540.5,417.18 541.0,416.35 541.5,416.75 542.0,415.93 542.5,416.41 543.0,416.93 543.5,416.51 544.0,416.51 544.5,417.06 545.0,416.68 545.5,417.27 546.0,415.63 546.5,416.97 547.0,416.94 547.5,416.02 548.0,416.13 548.5,417.11 549.0,416.23 549.5,416.43 550.0,416.98 550.5,416.57 551.0,416.93 551.5,416.33 552.0,416.85 552.5,417.20 553.0,416.86 553.5,415.73 554.0,417.01 554.5,416.74 555.0,416.31 555.5,417.34 556.0,415.93 556.5,417.55 557.0,416.43 557.5,417.42 558.0,416.69 558.5,416.12 559.0,416.75 559.5,416.86 560.0,416.95 560.5,417.19 561.0,416.31 561.5,416.93 562.0,417.04 562.5,416.59 563.0,416.29 563.5,416.28 564.0,417.04 564.5,417.06 565.0,416.33 565.5,416.10 566.0,417.25 566.5,416.00 567.0,416.77 567.5,416.33 568.0,415.91 568.5,416.75 569.0,416.60 569.5,417.33 570.0,417.70 570.5,416.60 571.0,417.14 571.5,417.15 572.0,416.44 572.5,416.28 573.0,417.39 573.5,416.50 574.0,416.65 574.5,416.53 575.0,416.59 575.5,416.38 576.0,416.98 576.5,417.20 577.0,416.46 577.5,416.00 578.0,416.64 578.5,415.94 579.0,416.31 579.5,417.14 580.0,417.61 580.5,416.73 581.0,416.07 581.5,416.88 582.0,415.51 582.5,416.18 583.0,417.15 583.5,416.78 584.0,415.79 584.5,415.63 585.0,416.72 585.5,416.27 586.0,415.97 586.5,416.35 587.0,415.83 587.5,415.13 588.0,416.24 588.5,415.44 589.0,415.09 589.5,414.69 590.0,415.06 590.5,414.10 591.0,414.01 591.5,412.50 592.0,411.45 592.5,408.40 593.0,405.13 593.5,401.05 594.0,399.01 594.5,400.13 595.0,403.97 595.5,405.54 596.0,408.65 596.5,411.50 597.0,413.10 597.5,413.60 598.0,414.60 598.5,414.30 599.0,415.21 599.5,415.98 600.0,416.49 600.5,415.82 601.0,415.90 601.5,416.31 602.0,416.68 602.5,416.46 603.0,415.96 603.5,416.50 604.0,416.82 604.5,416.10 605.0,415.85 605.5,416.70 606.0,416.66 606.5,416.94 607.0,416.57 607.5,416.26 608.0,416.36 608.5,416.11 609.0,416.16 609.5,416.34 610.0,416.38 610.5,417.11 611.0,416.07 611.5,416.60 612.0,416.36 612.5,417.30 613.0,416.75 613.5,416.47 614.0,417.01 614.5,416.68 615.0,416.44 615.5,417.34 616.0,416.98 616.5,417.43 617.0,417.18 617.5,417.01 618.0,416.72 618.5,416.18 619.0,416.98 619.5,416.70 620.0,416.97 620.5,416.66 621.0,416.36 621.5,416.21 622.0,416.98 622.5,417.24 623.0,416.53 623.5,416.86 624.0,417.27 624.5,416.28 625.0,416.49 625.5,416.14 626.0,417.16 626.5,416.75 627.0,416.42 627.5,415.87 628.0,416.52 628.5,417.04 629.0,416.44 629.5,416.37 630.0,416.82 630.5,415.96 631.0,416.50 631.5,416.70 632.0,416.04 632.5,415.94 633.0,416.32 633.5,416.00 634.0,415.71 634.5,415.57 635.0,415.10 635.5,413.96 636.0,413.32 636.5,413.01 637.0,412.60 637.5,412.35 638.0,411.53 638.5,412.99 639.0,413.64 639.5,414.07 640.0,414.99 640.5,415.67 641.0,416.49 641.5,415.50 642.0,416.42 642.5,416.21 643.0,416.27 643.5,416.93 644.0,416.83 644.5,416.05 645.0,416.40 645.5,416.65 646.0,415.94 646.5,416.97 647.0,416.57 647.5,416.69 648.0,416.77 648.5,417.44 649.0,416.65 649.5,416.49 650.0,417.43 650.5,416.43 651.0,416.42 651.5,416.04 652.0,417.15 652.5,416.79 653.0,416.88 653.5,416.74 654.0,416.61 654.5,416.32 655.0,416.32 655.5,416.86 656.0,416.73 656.5,417.40 657.0,416.33 657.5,416.45 658.0,416.21 658.5,417.28 659.0,416.12 659.5,417.01 660.0,417.30 660.5,416.59 661.0,416.97 661.5,415.70 662.0,416.47 662.5,415.90 663.0,416.71 663.5,416.63 664.0,416.28 664.5,417.03 665.0,416.76 665.5,416.36 666.0,416.35 666.5,415.91 667.0,416.47 667.5,417.48 668.0,416.21 668.5,416.69 669.0,416.23 669.5,416.81 670.0,416.62 670.5,416.29 671.0,415.56 671.5,416.07 672.0,416.78 672.5,416.07 673.0,416.38 673.5,415.79 674.0,415.05 674.5,415.91 675.0,415.65 675.5,414.95 676.0,414.61 676.5,414.29 677.0,413.02 677.5,412.23 678.0,410.42 678.5,407.58 679.0,406.55 679.5,404.67 680.0,403.89 680.5,405.12 681.0,406.39 681.5,408.87 682.0,411.00 682.5,412.14 683.0,412.60 683.5,413.84 684.0,415.19 684.5,415.09 685.0,415.15 685.5,415.68 686.0,416.11 686.5,416.12 687.0,416.39 687.5,415.82 688.0,416.13 688.5,416.19 689.0,416.34 689.5,415.46 690.0,416.32 690.5,415.86 691.0,417.10 691.5,417.20 692.0,417.27 692.5,416.90 693.0,416.34 693.5,417.00 694.0,416.50 694.5,416.87 695.0,416.20 695.5,416.35 696.0,416.83 696.5,417.42 697.0,416.63 697.5,417.65 698.0,417.87 698.5,416.08 699.0,416.64 699.5,416.24 700.0,416.60 700.5,416.43 701.0,416.64 701.5,417.10 702.0,417.09 702.5,416.79 703.0,416.68 703.5,416.73 704.0,416.73 704.5,416.93 705.0,416.68 705.5,416.90 706.0,416.09 706.5,417.02 707.0,417.45 707.5,416.75 708.0,416.03 708.5,417.26 709.0,416.51 709.5,415.32 710.0,416.54 710.5,416.90 711.0,416.79 711.5,417.16 712.0,416.87 712.5,416.64 713.0,415.68 713.5,416.05 714.0,416.59 714.5,416.78 715.0,415.99 715.5,416.12 716.0,416.53 716.5,415.37 717.0,415.21 717.5,415.77 718.0,415.68 718.5,414.93 719.0,413.55 719.5,413.87 720.0,412.44 720.5,412.49 721.0,411.48 721.5,411.38 722.0,411.81 722.5,411.96 723.0,413.41 723.5,414.42 724.0,414.76 724.5,415.74 725.0,415.30 725.5,416.29 726.0,416.21 726.5,415.79 727.0,416.30"/>
<polyline fill="none" stroke="#2a68bd" stroke-width="2.2" stroke-linejoin="round" points="62.0,361.60 62.5,360.98 63.0,361.41 63.5,360.45 64.0,360.97 64.5,360.56 65.0,360.91 65.5,361.14 66.0,361.25 66.5,360.28 67.0,361.26 67.5,360.43 68.0,360.13 68.5,360.46 69.0,359.82 69.5,360.42 70.0,360.48 70.5,360.19 71.0,360.45 71.5,359.99 72.0,360.05 72.5,359.32 73.0,359.89 73.5,359.40 74.0,359.49 74.5,359.55 75.0,359.58 75.5,358.65 76.0,358.58 76.5,359.05 77.0,359.29 77.5,359.14 78.0,359.27 78.5,359.36 79.0,358.90 79.5,358.57 80.0,358.02 80.5,357.97 81.0,358.11 81.5,358.36 82.0,358.27 82.5,358.11 83.0,357.98 83.5,358.28 84.0,358.05 84.5,358.06 85.0,358.05 85.5,357.65 86.0,357.42 86.5,358.11 87.0,358.09 87.5,357.83 88.0,357.77 88.5,359.03 89.0,357.71 89.5,358.01 90.0,358.29 90.5,357.72 91.0,358.37 91.5,359.20 92.0,358.90 92.5,358.86 93.0,358.94 93.5,358.82 94.0,359.30 94.5,358.90 95.0,358.88 95.5,359.22 96.0,359.69 96.5,359.53 97.0,359.79 97.5,358.67 98.0,360.22 98.5,360.83 99.0,360.47 99.5,359.82 100.0,359.66 100.5,360.25 101.0,359.76 101.5,360.60 102.0,360.11 102.5,360.84 103.0,361.09 103.5,359.62 104.0,360.71 104.5,360.32 105.0,360.04 105.5,360.44 106.0,360.66 106.5,361.26 107.0,360.14 107.5,361.33 108.0,361.79 108.5,361.17 109.0,361.17 109.5,360.94 110.0,360.43 110.5,361.22 111.0,361.16 111.5,361.33 112.0,362.17 112.5,361.35 113.0,361.22 113.5,361.74 114.0,360.44 114.5,360.53 115.0,360.88 115.5,360.76 116.0,361.37 116.5,360.92 117.0,361.85 117.5,361.75 118.0,361.41 118.5,360.89 119.0,361.35 119.5,361.43 120.0,360.59 120.5,361.23 121.0,361.39 121.5,361.17 122.0,361.78 122.5,361.61 123.0,360.70 123.5,361.12 124.0,360.69 124.5,361.33 125.0,360.68 125.5,361.48 126.0,361.24 126.5,361.50 127.0,361.00 127.5,360.41 128.0,361.85 128.5,360.98 129.0,361.68 129.5,361.25 130.0,361.36 130.5,361.87 131.0,361.20 131.5,361.68 132.0,360.37 132.5,361.43 133.0,360.93 133.5,360.97 134.0,361.03 134.5,361.18 135.0,361.76 135.5,360.17 136.0,361.02 136.5,360.66 137.0,361.49 137.5,360.75 138.0,361.12 138.5,360.68 139.0,361.06 139.5,361.06 140.0,360.15 140.5,359.97 141.0,358.84 141.5,359.17 142.0,359.23 142.5,358.78 143.0,359.97 143.5,359.00 144.0,359.48 144.5,359.95 145.0,360.52 145.5,360.83 146.0,360.84 146.5,360.87 147.0,361.24 147.5,360.71 148.0,360.36 148.5,360.37 149.0,361.88 149.5,359.86 150.0,360.83 150.5,361.55 151.0,361.09 151.5,360.47 152.0,360.79 152.5,361.09 153.0,361.13 153.5,360.00 154.0,360.50 154.5,359.96 155.0,359.98 155.5,359.76 156.0,358.72 156.5,358.16 157.0,359.14 157.5,360.06 158.0,359.93 158.5,360.06 159.0,361.32 159.5,359.98 160.0,361.01 160.5,360.44 161.0,360.78 161.5,360.84 162.0,361.50 162.5,360.41 163.0,360.60 163.5,360.12 164.0,361.06 164.5,360.63 165.0,361.01 165.5,360.33 166.0,360.64 166.5,361.25 167.0,360.68 167.5,361.02 168.0,360.95 168.5,360.51 169.0,359.93 169.5,361.02 170.0,360.60 170.5,360.89 171.0,359.45 171.5,359.49 172.0,359.13 172.5,359.51 173.0,360.12 173.5,359.56 174.0,358.82 174.5,358.19 175.0,357.38 175.5,355.08 176.0,352.20 176.5,346.63 177.0,337.61 177.5,332.12 178.0,335.98 178.5,343.43 179.0,350.10 179.5,353.88 180.0,356.21 180.5,358.27 181.0,358.47 181.5,358.68 182.0,358.13 182.5,359.56 183.0,359.14 183.5,359.37 184.0,360.68 184.5,360.74 185.0,359.64 185.5,360.96 186.0,360.84 186.5,360.32 187.0,361.05 187.5,360.02 188.0,360.24 188.5,360.16 189.0,360.33 189.5,361.24 190.0,360.26 190.5,360.36 191.0,360.46 191.5,360.99 192.0,360.76 192.5,361.31 193.0,360.61 193.5,360.36 194.0,360.72 194.5,360.97 195.0,360.54 195.5,361.09 196.0,361.79 196.5,360.71 197.0,361.00 197.5,361.59 198.0,360.69 198.5,360.60 199.0,360.50 199.5,361.17 200.0,361.22 200.5,360.93 201.0,361.02 201.5,361.57 202.0,361.39 202.5,360.37 203.0,361.00 203.5,361.05 204.0,361.33 204.5,360.90 205.0,360.71 205.5,360.80 206.0,360.21 206.5,360.99 207.0,360.74 207.5,361.22 208.0,360.54 208.5,360.81 209.0,360.57 209.5,360.53 210.0,361.32 210.5,360.80 211.0,361.21 211.5,360.50 212.0,361.05 212.5,360.24 213.0,360.79 213.5,360.78 214.0,361.27 214.5,361.08 215.0,360.92 215.5,361.38 216.0,361.09 216.5,361.24 217.0,361.34 217.5,360.97 218.0,360.87 218.5,361.14 219.0,360.81 219.5,361.17 220.0,361.49 220.5,361.38 221.0,360.82 221.5,360.41 222.0,360.96 222.5,360.93 223.0,361.48 223.5,360.81 224.0,360.89 224.5,361.31 225.0,360.77 225.5,360.91 226.0,361.75 226.5,361.65 227.0,361.26 227.5,361.09 228.0,360.54 228.5,361.22 229.0,360.99 229.5,361.06 230.0,360.73 230.5,360.95 231.0,360.87 231.5,361.10 232.0,361.59 232.5,361.11 233.0,360.20 233.5,360.51 234.0,360.23 234.5,360.58 235.0,361.18 235.5,361.11 236.0,360.65 236.5,361.04 237.0,360.57 237.5,360.27 238.0,360.27 238.5,360.51 239.0,361.53 239.5,360.29 240.0,361.44 240.5,361.47 241.0,360.79 241.5,360.84 242.0,360.58 242.5,360.83 243.0,361.13 243.5,360.83 244.0,361.26 244.5,361.34 245.0,360.95 245.5,360.93 246.0,360.74 246.5,360.91 247.0,360.23 247.5,360.90 248.0,360.79 248.5,360.29 249.0,361.63 249.5,360.20 250.0,360.22 250.5,360.71 251.0,359.68 251.5,360.17 252.0,359.80 252.5,360.01 253.0,360.34 253.5,360.49 254.0,360.79 254.5,360.60 255.0,360.70 255.5,360.35 256.0,359.79 256.5,360.39 257.0,359.56 257.5,359.36 258.0,360.17 258.5,359.64 259.0,359.17 259.5,359.14 260.0,358.87 260.5,357.46 261.0,357.53 261.5,356.41 262.0,356.17 262.5,354.67 263.0,353.85 263.5,350.49 264.0,344.28 264.5,334.08 265.0,315.30 265.5,288.57 266.0,255.24 266.5,225.48 267.0,215.80 267.5,235.56 268.0,268.95 268.5,300.64 269.0,324.73 269.5,338.50 270.0,347.57 270.5,351.37 271.0,354.11 271.5,355.65 272.0,356.78 272.5,356.95 273.0,357.87 273.5,357.71 274.0,357.97 274.5,359.16 275.0,359.13 275.5,358.63 276.0,359.16 276.5,359.70 277.0,360.51 277.5,360.40 278.0,360.38 278.5,359.30 279.0,360.14 279.5,360.46 280.0,360.48 280.5,360.55 281.0,360.30 281.5,361.24 282.0,361.15 282.5,360.48 283.0,360.11 283.5,361.50 284.0,360.36 284.5,361.17 285.0,361.51 285.5,360.25 286.0,360.82 286.5,360.55 287.0,360.95 287.5,360.88 288.0,361.63 288.5,361.03 289.0,360.77 289.5,361.29 290.0,360.67 290.5,360.64 291.0,361.82 291.5,360.45 292.0,360.61 292.5,360.86 293.0,360.37 293.5,359.90 294.0,361.33 294.5,360.51 295.0,360.62 295.5,360.70 296.0,360.43 296.5,360.39 297.0,360.95 297.5,361.96 298.0,361.22 298.5,361.23 299.0,360.22 299.5,360.88 300.0,360.37 300.5,361.25 301.0,360.80 301.5,360.92 302.0,360.87 302.5,360.64 303.0,360.22 303.5,361.17 304.0,360.29 304.5,360.38 305.0,360.78 305.5,360.59 306.0,361.03 306.5,361.37 307.0,361.02 307.5,361.00 308.0,360.92 308.5,361.29 309.0,360.08 309.5,361.07 310.0,360.48 310.5,360.35 311.0,360.90 311.5,360.72 312.0,361.16 312.5,361.39 313.0,359.84 313.5,360.85 314.0,361.76 314.5,361.27 315.0,361.52 315.5,360.91 316.0,360.22 316.5,360.35 317.0,361.17 317.5,361.27 318.0,360.50 318.5,360.70 319.0,360.93 319.5,360.02 320.0,360.64 320.5,361.51 321.0,361.75 321.5,360.70 322.0,361.56 322.5,360.48 323.0,360.33 323.5,359.66 324.0,361.08 324.5,360.45 325.0,361.64 325.5,360.69 326.0,360.59 326.5,359.64 327.0,361.07 327.5,360.17 328.0,360.18 328.5,359.17 329.0,360.47 329.5,360.37 330.0,359.50 330.5,359.62 331.0,359.51 331.5,359.47 332.0,358.69 332.5,358.90 333.0,357.31 333.5,356.15 334.0,354.74 334.5,351.50 335.0,348.52 335.5,343.22 336.0,333.56 336.5,321.71 337.0,316.18 337.5,321.18 338.0,333.31 338.5,343.00 339.0,349.20 339.5,352.30 340.0,355.36 340.5,357.27 341.0,357.23 341.5,358.46 342.0,357.94 342.5,358.15 343.0,359.62 343.5,359.60 344.0,359.86 344.5,359.67 345.0,359.93 345.5,360.53 346.0,361.03 346.5,360.24 347.0,359.66 347.5,361.03 348.0,360.78 348.5,360.86 349.0,360.67 349.5,361.67 350.0,360.69 350.5,360.91 351.0,359.87 351.5,360.46 352.0,360.43 352.5,360.75 353.0,360.93 353.5,360.45 354.0,361.58 354.5,360.33 355.0,360.62 355.5,360.94 356.0,360.28 356.5,361.11 357.0,361.14 357.5,360.73 358.0,361.73 358.5,360.91 359.0,361.01 359.5,360.45 360.0,360.14 360.5,360.61 361.0,360.75 361.5,360.70 362.0,361.25 362.5,359.83 363.0,360.40 363.5,360.09 364.0,361.52 364.5,360.66 365.0,360.68 365.5,360.42 366.0,361.32 366.5,360.73 367.0,361.02 367.5,360.00 368.0,361.44 368.5,361.09 369.0,361.17 369.5,361.47 370.0,360.83 370.5,360.84 371.0,361.24 371.5,361.10 372.0,360.80 372.5,360.93 373.0,360.68 373.5,361.22 374.0,361.32 374.5,360.90 375.0,361.74 375.5,360.19 376.0,360.77 376.5,361.65 377.0,360.68 377.5,360.14 378.0,361.48 378.5,361.09 379.0,360.30 379.5,361.18 380.0,360.36 380.5,360.20 381.0,360.73 381.5,360.56 382.0,360.27 382.5,360.58 383.0,360.28 383.5,360.74 384.0,360.68 384.5,361.00 385.0,360.43 385.5,360.00 386.0,359.97 386.5,360.41 387.0,361.16 387.5,360.80 388.0,360.06 388.5,360.70 389.0,359.66 389.5,360.54 390.0,359.78 390.5,360.14 391.0,359.89 391.5,359.24 392.0,359.22 392.5,358.20 393.0,358.13 393.5,357.96 394.0,358.33 394.5,355.35 395.0,352.79 395.5,348.58 396.0,343.46 396.5,333.01 397.0,322.17 397.5,316.70 398.0,321.99 398.5,334.46 399.0,343.48 399.5,348.78 400.0,352.50 400.5,354.44 401.0,355.86 401.5,357.67 402.0,358.45 402.5,358.84 403.0,359.19 403.5,359.12 404.0,359.77 404.5,359.14 405.0,359.96 405.5,360.75 406.0,360.79 406.5,360.07 407.0,360.21 407.5,361.04 408.0,361.29 408.5,359.85 409.0,360.38 409.5,360.71 410.0,361.19 410.5,360.29 411.0,360.99 411.5,360.58 412.0,361.81 412.5,360.95 413.0,360.72 413.5,360.64 414.0,361.28 414.5,361.13 415.0,360.34 415.5,360.94 416.0,360.25 416.5,360.52 417.0,360.28 417.5,360.28 418.0,360.57 418.5,360.45 419.0,361.14 419.5,361.26 420.0,360.80 420.5,360.41 421.0,361.28 421.5,360.01 422.0,360.05 422.5,361.26 423.0,361.23 423.5,361.37 424.0,360.84 424.5,360.37 425.0,360.71 425.5,361.20 426.0,360.60 426.5,360.63 427.0,360.32 427.5,360.42 428.0,361.33 428.5,361.15 429.0,360.42 429.5,360.46 430.0,360.69 430.5,361.20 431.0,360.42 431.5,360.87 432.0,359.98 432.5,360.38 433.0,361.13 433.5,361.35 434.0,360.42 434.5,360.59 435.0,361.29 435.5,360.75 436.0,360.68 436.5,361.16 437.0,361.01 437.5,361.42 438.0,361.27 438.5,360.64 439.0,360.84 439.5,360.86 440.0,360.26 440.5,360.42 441.0,361.29 441.5,360.12 442.0,361.26 442.5,360.92 443.0,360.71 443.5,360.99 444.0,360.92 444.5,361.21 445.0,360.44 445.5,360.45 446.0,360.37 446.5,361.23 447.0,360.69 447.5,359.68 448.0,359.71 448.5,359.20 449.0,359.00 449.5,358.27 450.0,357.95 450.5,354.29 451.0,353.30 451.5,350.90 452.0,349.74 452.5,351.39 453.0,353.55 453.5,355.92 454.0,357.93 454.5,357.86 455.0,359.82 455.5,359.50 456.0,360.64 456.5,360.35 457.0,360.87 457.5,360.68 458.0,361.00 458.5,360.60 459.0,360.26 459.5,360.98 460.0,361.04 460.5,361.70 461.0,359.87 461.5,360.71 462.0,361.30 462.5,360.27 463.0,360.74 463.5,361.81 464.0,361.51 464.5,360.48 465.0,361.53 465.5,361.43 466.0,361.25 466.5,361.08 467.0,361.02 467.5,360.52 468.0,360.68 468.5,361.25 469.0,360.98 469.5,361.76 470.0,360.77 470.5,359.84 471.0,360.77 471.5,361.05 472.0,361.10 472.5,360.95 473.0,360.55 473.5,361.59 474.0,360.62 474.5,361.24 475.0,360.79 475.5,360.37 476.0,361.55 476.5,359.78 477.0,360.52 477.5,361.09 478.0,360.73 478.5,361.23 479.0,360.84 479.5,360.67 480.0,361.85 480.5,360.77 481.0,360.79 481.5,360.36 482.0,360.50 482.5,361.12 483.0,361.07 483.5,360.81 484.0,360.48 484.5,361.09 485.0,360.00 485.5,360.59 486.0,360.61 486.5,360.33 487.0,360.75 487.5,360.36 488.0,360.27 488.5,361.41 489.0,360.89 489.5,361.06 490.0,360.50 490.5,360.86 491.0,360.72 491.5,360.84 492.0,361.28 492.5,360.02 493.0,360.13 493.5,359.87 494.0,358.16 494.5,358.93 495.0,359.34 495.5,359.34 496.0,358.45 496.5,358.78 497.0,358.26 497.5,356.73 498.0,356.48 498.5,355.07 499.0,352.14 499.5,347.84 500.0,343.31 500.5,334.31 501.0,323.83 501.5,315.92 502.0,316.70 502.5,326.60 503.0,336.61 503.5,344.52 504.0,349.41 504.5,352.13 505.0,354.58 505.5,356.48 506.0,356.91 506.5,359.14 507.0,358.26 507.5,358.53 508.0,359.64 508.5,359.73 509.0,359.59 509.5,359.68 510.0,360.12 510.5,360.43 511.0,360.50 511.5,360.11 512.0,360.52 512.5,360.77 513.0,360.79 513.5,359.11 514.0,360.15 514.5,360.24 515.0,360.52 515.5,360.74 516.0,361.10 516.5,360.99 517.0,360.68 517.5,360.76 518.0,361.57 518.5,360.52 519.0,360.94 519.5,361.53 520.0,360.99 520.5,359.93 521.0,361.03 521.5,360.70 522.0,360.83 522.5,361.36 523.0,361.11 523.5,360.79 524.0,361.32 524.5,361.12 525.0,360.98 525.5,361.07 526.0,361.05 526.5,360.79 527.0,360.74 527.5,360.97 528.0,360.53 528.5,360.40 529.0,361.55 529.5,360.86 530.0,360.96 530.5,360.92 531.0,360.99 531.5,360.99 532.0,361.02 532.5,360.63 533.0,361.41 533.5,360.68 534.0,361.46 534.5,360.14 535.0,360.52 535.5,361.45 536.0,360.94 536.5,360.71 537.0,361.18 537.5,360.54 538.0,361.05 538.5,360.02 539.0,360.81 539.5,360.72 540.0,361.26 540.5,361.41 541.0,360.64 541.5,361.75 542.0,360.76 542.5,360.10 543.0,359.95 543.5,361.72 544.0,360.99 544.5,360.74 545.0,360.69 545.5,360.54 546.0,361.64 546.5,360.99 547.0,361.84 547.5,360.94 548.0,359.97 548.5,361.41 549.0,360.87 549.5,360.92 550.0,361.74 550.5,360.91 551.0,361.56 551.5,361.03 552.0,360.69 552.5,361.26 553.0,360.76 553.5,361.59 554.0,361.46 554.5,361.06 555.0,361.31 555.5,361.29 556.0,360.91 556.5,361.43 557.0,360.93 557.5,361.31 558.0,360.60 558.5,361.08 559.0,361.22 559.5,360.67 560.0,360.84 560.5,360.79 561.0,361.36 561.5,360.70 562.0,361.22 562.5,361.71 563.0,361.19 563.5,360.30 564.0,361.08 564.5,361.49 565.0,360.89 565.5,361.52 566.0,361.30 566.5,361.21 567.0,360.90 567.5,360.78 568.0,360.90 568.5,361.04 569.0,361.24 569.5,361.20 570.0,360.87 570.5,361.03 571.0,361.17 571.5,360.26 572.0,360.65 572.5,360.63 573.0,360.89 573.5,360.86 574.0,360.86 574.5,360.58 575.0,361.27 575.5,361.08 576.0,360.21 576.5,360.95 577.0,360.43 577.5,361.70 578.0,360.72 578.5,360.73 579.0,360.94 579.5,360.80 580.0,360.85 580.5,361.56 581.0,360.95 581.5,361.20 582.0,361.31 582.5,360.34 583.0,361.51 583.5,361.03 584.0,361.12 584.5,360.26 585.0,360.97 585.5,360.73 586.0,360.24 586.5,361.43 587.0,360.57 587.5,360.09 588.0,360.15 588.5,360.29 589.0,360.17 589.5,359.63 590.0,359.52 590.5,359.06 591.0,356.99 591.5,356.03 592.0,353.88 592.5,351.55 593.0,348.46 593.5,344.02 594.0,340.41 594.5,341.11 595.0,344.98 595.5,348.37 596.0,352.10 596.5,354.89 597.0,355.74 597.5,358.10 598.0,358.69 598.5,359.32 599.0,358.99 599.5,359.36 600.0,359.65 600.5,360.20 601.0,360.25 601.5,360.39 602.0,361.23 602.5,361.08 603.0,360.23 603.5,360.32 604.0,361.43 604.5,360.55 605.0,361.35 605.5,361.48 606.0,360.54 606.5,360.68 607.0,360.86 607.5,360.46 608.0,360.42 608.5,360.69 609.0,361.27 609.5,360.70 610.0,360.82 610.5,360.71 611.0,360.31 611.5,361.60 612.0,359.89 612.5,360.65 613.0,361.21 613.5,360.33 614.0,361.24 614.5,361.53 615.0,360.59 615.5,361.07 616.0,360.48 616.5,361.21 617.0,361.02 617.5,361.08 618.0,361.60 618.5,361.20 619.0,361.60 619.5,361.28 620.0,360.45 620.5,361.11 621.0,361.21 621.5,360.34 622.0,361.59 622.5,361.02 623.0,361.15 623.5,360.58 624.0,361.02 624.5,361.12 625.0,360.83 625.5,361.01 626.0,360.01 626.5,361.57 627.0,360.45 627.5,359.96 628.0,360.51 628.5,360.55 629.0,361.16 629.5,360.49 630.0,361.01 630.5,360.42 631.0,361.82 631.5,361.03 632.0,361.62 632.5,360.22 633.0,360.88 633.5,360.01 634.0,360.49 634.5,360.23 635.0,358.78 635.5,358.42 636.0,357.73 636.5,356.85 637.0,356.56 637.5,356.13 638.0,356.06 638.5,357.29 639.0,358.21 639.5,358.08 640.0,359.04 640.5,359.77 641.0,360.01 641.5,360.05 642.0,360.90 642.5,361.02 643.0,361.02 643.5,360.68 644.0,361.71 644.5,361.63 645.0,360.69 645.5,360.84 646.0,361.44 646.5,360.56 647.0,361.11 647.5,360.96 648.0,360.64 648.5,360.86 649.0,360.26 649.5,360.73 650.0,360.08 650.5,362.01 651.0,361.66 651.5,361.54 652.0,361.13 652.5,361.44 653.0,361.57 653.5,361.45 654.0,361.41 654.5,360.59 655.0,361.19 655.5,360.76 656.0,360.46 656.5,360.48 657.0,361.19 657.5,361.47 658.0,360.38 658.5,361.77 659.0,361.65 659.5,360.81 660.0,360.77 660.5,360.95 661.0,361.42 661.5,360.80 662.0,360.47 662.5,361.12 663.0,360.03 663.5,361.01 664.0,361.46 664.5,361.07 665.0,361.28 665.5,361.14 666.0,361.23 666.5,360.96 667.0,360.51 667.5,360.77 668.0,360.82 668.5,361.40 669.0,361.54 669.5,360.98 670.0,360.42 670.5,360.40 671.0,360.61 671.5,361.27 672.0,360.75 672.5,360.51 673.0,360.12 673.5,360.77 674.0,360.39 674.5,360.09 675.0,359.96 675.5,360.40 676.0,359.18 676.5,359.44 677.0,358.43 677.5,356.79 678.0,355.72 678.5,353.53 679.0,351.36 679.5,350.07 680.0,349.17 680.5,350.42 681.0,351.74 681.5,353.84 682.0,355.70 682.5,355.36 683.0,358.01 683.5,357.87 684.0,359.32 684.5,359.25 685.0,359.97 685.5,360.73 686.0,359.49 686.5,360.46 687.0,360.43 687.5,359.69 688.0,360.89 688.5,360.67 689.0,360.46 689.5,360.41 690.0,362.21 690.5,360.61 691.0,360.00 691.5,360.42 692.0,360.69 692.5,360.70 693.0,360.85 693.5,360.43 694.0,361.15 694.5,360.70 695.0,360.31 695.5,360.57 696.0,360.77 696.5,361.33 697.0,361.17 697.5,360.81 698.0,360.97 698.5,361.07 699.0,361.89 699.5,360.70 700.0,361.19 700.5,361.31 701.0,360.55 701.5,361.07 702.0,361.06 702.5,360.78 703.0,361.24 703.5,361.45 704.0,361.50 704.5,360.90 705.0,361.07 705.5,362.04 706.0,360.49 706.5,361.08 707.0,361.38 707.5,361.04 708.0,361.27 708.5,361.04 709.0,361.30 709.5,361.53 710.0,360.85 710.5,361.03 711.0,360.91 711.5,360.74 712.0,360.90 712.5,360.38 713.0,361.21 713.5,361.62 714.0,361.59 714.5,361.37 715.0,360.32 715.5,361.38 716.0,360.31 716.5,360.51 717.0,361.22 717.5,359.70 718.0,360.25 718.5,359.58 719.0,358.81 719.5,357.77 720.0,357.53 720.5,356.29 721.0,356.31 721.5,356.12 722.0,355.22 722.5,356.28 723.0,357.20 723.5,357.64 724.0,358.38 724.5,359.50 725.0,359.79 725.5,359.44 726.0,360.15 726.5,360.77 727.0,360.10"/>
<polyline fill="none" stroke="#45a06c" stroke-width="2.2" stroke-linejoin="round" points="62.0,311.18 62.5,309.94 63.0,310.09 63.5,310.53 64.0,310.53 64.5,310.36 65.0,309.33 65.5,310.26 66.0,309.48 66.5,309.62 67.0,310.22 67.5,309.82 68.0,310.30 68.5,311.33 69.0,310.25 69.5,310.21 70.0,309.46 70.5,309.56 71.0,309.36 71.5,309.59 72.0,309.33 72.5,309.51 73.0,309.71 73.5,309.35 74.0,309.16 74.5,309.18 75.0,310.00 75.5,309.82 76.0,310.26 76.5,310.27 77.0,309.65 77.5,310.11 78.0,309.17 78.5,310.86 79.0,310.38 79.5,309.75 80.0,309.34 80.5,310.05 81.0,309.05 81.5,309.56 82.0,310.27 82.5,309.98 83.0,309.75 83.5,310.42 84.0,309.54 84.5,310.16 85.0,309.83 85.5,309.70 86.0,310.31 86.5,309.68 87.0,311.00 87.5,309.91 88.0,311.09 88.5,309.73 89.0,310.52 89.5,309.73 90.0,309.69 90.5,310.38 91.0,310.64 91.5,309.78 92.0,310.91 92.5,310.04 93.0,310.48 93.5,310.61 94.0,310.73 94.5,309.67 95.0,311.23 95.5,310.77 96.0,310.34 96.5,310.09 97.0,309.80 97.5,309.97 98.0,310.84 98.5,310.45 99.0,310.11 99.5,310.39 100.0,311.35 100.5,310.50 101.0,310.40 101.5,311.28 102.0,310.89 102.5,310.71 103.0,310.42 103.5,310.01 104.0,310.18 104.5,310.50 105.0,310.62 105.5,310.89 106.0,310.98 106.5,310.84 107.0,310.84 107.5,310.29 108.0,309.78 108.5,310.52 109.0,310.33 109.5,310.47 110.0,310.64 110.5,310.20 111.0,310.27 111.5,310.72 112.0,310.82 112.5,310.48 113.0,311.00 113.5,310.67 114.0,310.32 114.5,310.79 115.0,311.62 115.5,310.47 116.0,311.30 116.5,311.40 117.0,311.45 117.5,310.41 118.0,311.69 118.5,310.83 119.0,310.67 119.5,310.68 120.0,311.05 120.5,310.80 121.0,310.70 121.5,311.36 122.0,310.45 122.5,310.31 123.0,311.14 123.5,311.10 124.0,311.27 124.5,310.30 125.0,311.27 125.5,311.00 126.0,311.57 126.5,310.22 127.0,310.88 127.5,310.65 128.0,310.06 128.5,310.46 129.0,311.28 129.5,310.57 130.0,310.45 130.5,311.17 131.0,311.22 131.5,311.22 132.0,310.42 132.5,310.75 133.0,311.24 133.5,310.48 134.0,310.44 134.5,311.15 135.0,311.48 135.5,310.25 136.0,309.60 136.5,310.12 137.0,310.31 137.5,310.71 138.0,311.05 138.5,310.70 139.0,310.45 139.5,310.84 140.0,310.33 140.5,310.74 141.0,310.48 141.5,311.97 142.0,311.13 142.5,310.39 143.0,310.31 143.5,310.56 144.0,310.02 144.5,310.43 145.0,310.43 145.5,311.16 146.0,310.56 146.5,310.40 147.0,310.15 147.5,310.22 148.0,310.72 148.5,310.65 149.0,311.26 149.5,310.46 150.0,311.22 150.5,310.86 151.0,310.74 151.5,309.84 152.0,310.16 152.5,311.07 153.0,311.36 153.5,310.83 154.0,311.07 154.5,310.54 155.0,310.56 155.5,310.42 156.0,311.16 156.5,310.87 157.0,310.61 157.5,310.56 158.0,310.96 158.5,310.85 159.0,310.32 159.5,311.46 160.0,310.80 160.5,310.68 161.0,311.34 161.5,311.13 162.0,310.62 162.5,310.89 163.0,310.16 163.5,310.34 164.0,309.60 164.5,311.16 165.0,309.74 165.5,310.88 166.0,310.18 166.5,310.10 167.0,310.43 167.5,310.61 168.0,310.73 168.5,311.22 169.0,310.54 169.5,310.72 170.0,309.99 170.5,310.51 171.0,310.17 171.5,309.78 172.0,309.80 172.5,309.63 173.0,309.50 173.5,309.27 174.0,308.40 174.5,307.62 175.0,307.23 175.5,304.37 176.0,301.77 176.5,297.48 177.0,287.86 177.5,282.69 178.0,286.28 178.5,293.18 179.0,301.42 179.5,302.93 180.0,306.95 180.5,308.29 181.0,308.80 181.5,308.82 182.0,309.45 182.5,309.16 183.0,310.14 183.5,309.43 184.0,309.93 184.5,310.60 185.0,309.73 185.5,310.13 186.0,310.42 186.5,309.79 187.0,310.96 187.5,310.62 188.0,309.81 188.5,310.50 189.0,310.19 189.5,310.26 190.0,310.61 190.5,310.27 191.0,311.04 191.5,310.30 192.0,311.07 192.5,310.61 193.0,311.03 193.5,310.41 194.0,310.43 194.5,310.14 195.0,310.93 195.5,311.10 196.0,311.63 196.5,311.26 197.0,310.80 197.5,310.60 198.0,310.87 198.5,310.68 199.0,311.36 199.5,311.13 200.0,310.33 200.5,310.40 201.0,311.32 201.5,310.85 202.0,310.61 202.5,311.25 203.0,310.54 203.5,310.59 204.0,310.51 204.5,309.84 205.0,311.11 205.5,310.18 206.0,310.46 206.5,310.39 207.0,311.05 207.5,310.69 208.0,310.73 208.5,309.97 209.0,310.68 209.5,310.06 210.0,310.86 210.5,310.89 211.0,310.72 211.5,311.64 212.0,310.96 212.5,310.99 213.0,310.79 213.5,310.64 214.0,311.16 214.5,311.22 215.0,310.14 215.5,311.20 216.0,310.95 216.5,311.15 217.0,310.93 217.5,310.16 218.0,310.19 218.5,311.54 219.0,310.83 219.5,310.08 220.0,310.87 220.5,310.55 221.0,309.88 221.5,309.68 222.0,309.99 222.5,310.83 223.0,310.69 223.5,310.60 224.0,310.84 224.5,310.98 225.0,309.76 225.5,310.57 226.0,310.33 226.5,310.14 227.0,310.45 227.5,310.64 228.0,310.57 228.5,310.04 229.0,310.47 229.5,311.59 230.0,310.21 230.5,309.92 231.0,310.80 231.5,310.95 232.0,310.88 232.5,310.17 233.0,311.12 233.5,310.31 234.0,310.15 234.5,310.38 235.0,310.61 235.5,310.97 236.0,310.93 236.5,310.63 237.0,311.06 237.5,310.67 238.0,311.03 238.5,309.99 239.0,309.91 239.5,310.96 240.0,309.98 240.5,310.46 241.0,310.55 241.5,310.36 242.0,310.37 242.5,311.19 243.0,309.42 243.5,310.95 244.0,311.57 244.5,310.54 245.0,310.51 245.5,310.83 246.0,311.31 246.5,309.94 247.0,310.50 247.5,310.36 248.0,310.68 248.5,310.48 249.0,310.68 249.5,310.17 250.0,310.36 250.5,310.01 251.0,309.98 251.5,310.18 252.0,310.14 252.5,309.64 253.0,310.83 253.5,310.01 254.0,309.40 254.5,310.45 255.0,309.55 255.5,310.04 256.0,309.71 256.5,309.73 257.0,309.58 257.5,309.10 258.0,309.22 258.5,309.93 259.0,307.78 259.5,308.55 260.0,308.39 260.5,307.33 261.0,306.68 261.5,307.64 262.0,305.67 262.5,305.63 263.0,303.20 263.5,300.01 264.0,294.58 264.5,284.10 265.0,266.10 265.5,238.47 266.0,204.79 266.5,175.17 267.0,167.00 267.5,185.80 268.0,217.99 268.5,249.94 269.0,274.08 269.5,288.53 270.0,296.89 270.5,300.96 271.0,303.63 271.5,305.39 272.0,306.64 272.5,306.94 273.0,308.44 273.5,307.93 274.0,309.77 274.5,309.08 275.0,309.10 275.5,308.86 276.0,307.99 276.5,309.34 277.0,309.62 277.5,310.52 278.0,309.13 278.5,310.69 279.0,309.79 279.5,310.30 280.0,308.89 280.5,310.15 281.0,309.98 281.5,310.48 282.0,310.25 282.5,309.73 283.0,310.70 283.5,310.62 284.0,310.60 284.5,310.81 285.0,310.87 285.5,310.39 286.0,309.80 286.5,309.81 287.0,311.06 287.5,310.78 288.0,310.52 288.5,310.29 289.0,310.51 289.5,310.52 290.0,310.37 290.5,310.22 291.0,311.51 291.5,310.65 292.0,310.28 292.5,309.98 293.0,310.24 293.5,310.90 294.0,310.92 294.5,310.49 295.0,310.61 295.5,310.46 296.0,310.10 296.5,311.19 297.0,310.77 297.5,311.72 298.0,310.27 298.5,310.55 299.0,311.02 299.5,310.51 300.0,310.00 300.5,310.20 301.0,310.67 301.5,310.78 302.0,310.59 302.5,311.08 303.0,311.08 303.5,310.78 304.0,310.65 304.5,310.52 305.0,310.88 305.5,311.05 306.0,310.66 306.5,310.84 307.0,310.49 307.5,310.00 308.0,310.18 308.5,310.98 309.0,310.83 309.5,311.35 310.0,310.65 310.5,311.02 311.0,311.22 311.5,311.07 312.0,310.35 312.5,310.53 313.0,310.67 313.5,310.17 314.0,310.82 314.5,311.06 315.0,310.38 315.5,311.48 316.0,310.45 316.5,310.49 317.0,310.46 317.5,310.25 318.0,310.74 318.5,310.56 319.0,311.29 319.5,310.80 320.0,310.76 320.5,310.40 321.0,309.85 321.5,310.43 322.0,310.07 322.5,310.86 323.0,310.40 323.5,311.14 324.0,310.69 324.5,310.71 325.0,310.40 325.5,310.35 326.0,310.51 326.5,310.58 327.0,309.79 327.5,310.26 328.0,311.14 328.5,309.83 329.0,309.64 329.5,309.32 330.0,308.82 330.5,309.81 331.0,309.05 331.5,308.85 332.0,309.14 332.5,308.91 333.0,306.66 333.5,306.52 334.0,304.82 334.5,302.36 335.0,298.56 335.5,292.08 336.0,283.27 336.5,271.22 337.0,264.91 337.5,271.51 338.0,282.96 338.5,292.30 339.0,298.49 339.5,302.97 340.0,304.77 340.5,306.01 341.0,306.68 341.5,307.63 342.0,307.84 342.5,308.77 343.0,309.14 343.5,308.35 344.0,309.48 344.5,309.92 345.0,309.84 345.5,309.44 346.0,310.54 346.5,309.73 347.0,309.56 347.5,309.68 348.0,310.21 348.5,310.71 349.0,310.83 349.5,310.43 350.0,309.83 350.5,310.10 351.0,310.01 351.5,310.36 352.0,309.66 352.5,310.53 353.0,310.78 353.5,310.44 354.0,310.73 354.5,310.11 355.0,309.89 355.5,310.27 356.0,311.08 356.5,311.03 357.0,310.37 357.5,311.12 358.0,310.44 358.5,311.28 359.0,310.82 359.5,310.40 360.0,310.97 360.5,310.27 361.0,310.20 361.5,309.97 362.0,310.74 362.5,310.60 363.0,310.59 363.5,310.45 364.0,311.28 364.5,310.44 365.0,310.31 365.5,311.20 366.0,311.28 366.5,310.79 367.0,309.85 367.5,310.37 368.0,310.91 368.5,310.65 369.0,311.34 369.5,310.02 370.0,310.94 370.5,310.35 371.0,311.23 371.5,310.60 372.0,311.09 372.5,310.33 373.0,309.99 373.5,310.12 374.0,310.34 374.5,310.15 375.0,311.15 375.5,311.21 376.0,310.72 376.5,310.13 377.0,310.54 377.5,310.27 378.0,311.23 378.5,310.71 379.0,310.78 379.5,310.37 380.0,309.63 380.5,310.18 381.0,310.01 381.5,310.67 382.0,310.53 382.5,310.11 383.0,310.28 383.5,311.14 384.0,309.98 384.5,309.97 385.0,310.25 385.5,310.00 386.0,310.09 386.5,310.48 387.0,310.97 387.5,309.33 388.0,310.06 388.5,310.01 389.0,309.87 389.5,309.71 390.0,309.52 390.5,309.97 391.0,309.12 391.5,309.03 392.0,308.79 392.5,308.45 393.0,307.81 393.5,307.64 394.0,306.20 394.5,304.83 395.0,302.44 395.5,298.30 396.0,292.33 396.5,283.01 397.0,272.33 397.5,265.94 398.0,271.77 398.5,283.59 399.0,292.94 399.5,297.96 400.0,303.23 400.5,304.76 401.0,306.16 401.5,307.67 402.0,307.92 402.5,308.13 403.0,309.78 403.5,308.61 404.0,309.28 404.5,309.90 405.0,309.19 405.5,309.76 406.0,310.08 406.5,311.08 407.0,309.67 407.5,310.12 408.0,310.49 408.5,310.28 409.0,309.75 409.5,310.51 410.0,310.41 410.5,310.59 411.0,310.92 411.5,310.89 412.0,310.64 412.5,310.62 413.0,310.00 413.5,310.45 414.0,310.62 414.5,310.36 415.0,310.59 415.5,310.19 416.0,311.26 416.5,311.55 417.0,310.41 417.5,310.77 418.0,310.49 418.5,311.17 419.0,310.81 419.5,310.65 420.0,310.52 420.5,310.68 421.0,310.18 421.5,310.94 422.0,310.32 422.5,310.88 423.0,310.70 423.5,311.14 424.0,310.64 424.5,311.11 425.0,310.24 425.5,310.93 426.0,310.55 426.5,310.74 427.0,310.69 427.5,311.08 428.0,309.75 428.5,310.80 429.0,309.99 429.5,311.20 430.0,309.77 430.5,310.20 431.0,309.90 431.5,311.39 432.0,310.07 432.5,310.70 433.0,310.41 433.5,309.84 434.0,310.49 434.5,310.94 435.0,310.55 435.5,311.05 436.0,310.46 436.5,310.62 437.0,310.44 437.5,310.76 438.0,311.45 438.5,310.75 439.0,310.67 439.5,310.29 440.0,310.21 440.5,311.20 441.0,310.02 441.5,310.09 442.0,310.44 442.5,310.26 443.0,311.30 443.5,309.32 444.0,310.51 444.5,310.61 445.0,309.72 445.5,309.86 446.0,310.25 446.5,310.66 447.0,309.36 447.5,308.85 448.0,309.70 448.5,309.52 449.0,308.01 449.5,306.12 450.0,306.17 450.5,303.13 451.0,300.82 451.5,297.59 452.0,296.62 452.5,298.37 453.0,302.18 453.5,304.87 454.0,305.27 454.5,307.16 455.0,309.26 455.5,308.86 456.0,308.78 456.5,309.65 457.0,309.79 457.5,309.93 458.0,309.87 458.5,310.04 459.0,310.04 459.5,310.46 460.0,309.99 460.5,310.26 461.0,310.36 461.5,311.04 462.0,310.65 462.5,310.45 463.0,310.76 463.5,310.72 464.0,311.04 464.5,310.79 465.0,311.38 465.5,311.18 466.0,310.57 466.5,310.41 467.0,311.00 467.5,310.84 468.0,310.56 468.5,309.95 469.0,309.79 469.5,310.77 470.0,310.97 470.5,310.98 471.0,310.04 471.5,311.09 472.0,310.38 472.5,310.80 473.0,310.81 473.5,310.26 474.0,310.35 474.5,309.69 475.0,310.20 475.5,309.80 476.0,310.81 476.5,310.64 477.0,311.02 477.5,310.76 478.0,310.31 478.5,310.75 479.0,310.41 479.5,310.85 480.0,310.72 480.5,310.12 481.0,310.56 481.5,310.58 482.0,310.40 482.5,310.93 483.0,311.29 483.5,310.34 484.0,310.34 484.5,309.47 485.0,310.41 485.5,310.25 486.0,309.46 486.5,310.54 487.0,310.65 487.5,310.03 488.0,310.16 488.5,309.86 489.0,310.60 489.5,309.54 490.0,310.03 490.5,311.00 491.0,310.08 491.5,310.20 492.0,309.85 492.5,309.29 493.0,309.70 493.5,309.76 494.0,308.97 494.5,309.40 495.0,309.58 495.5,309.22 496.0,307.68 496.5,307.50 497.0,306.63 497.5,307.06 498.0,305.77 498.5,304.24 499.0,301.15 499.5,297.34 500.0,292.22 500.5,283.90 501.0,273.00 501.5,265.24 502.0,266.55 502.5,275.62 503.0,285.27 503.5,292.57 504.0,298.63 504.5,302.19 505.0,304.17 505.5,305.55 506.0,306.44 506.5,307.81 507.0,308.02 507.5,308.53 508.0,308.37 508.5,308.79 509.0,309.36 509.5,309.02 510.0,309.05 510.5,309.59 511.0,310.39 511.5,310.02 512.0,310.67 512.5,310.02 513.0,310.00 513.5,309.57 514.0,309.98 514.5,310.93 515.0,310.46 515.5,310.68 516.0,310.70 516.5,310.40 517.0,310.34 517.5,310.50 518.0,310.77 518.5,310.69 519.0,310.72 519.5,310.59 520.0,310.19 520.5,310.43 521.0,310.13 521.5,311.02 522.0,309.63 522.5,310.49 523.0,311.67 523.5,310.45 524.0,310.10 524.5,310.61 525.0,311.21 525.5,310.56 526.0,310.91 526.5,310.69 527.0,310.48 527.5,312.07 528.0,310.69 528.5,310.42 529.0,310.44 529.5,310.84 530.0,310.86 530.5,311.02 531.0,310.74 531.5,310.04 532.0,310.92 532.5,310.55 533.0,310.56 533.5,310.03 534.0,310.44 534.5,310.37 535.0,310.68 535.5,310.05 536.0,310.73 536.5,310.76 537.0,310.20 537.5,310.43 538.0,310.32 538.5,311.12 539.0,309.58 539.5,310.56 540.0,309.97 540.5,310.52 541.0,311.10 541.5,310.44 542.0,310.78 542.5,310.34 543.0,311.60 543.5,311.13 544.0,311.23 544.5,310.13 545.0,310.23 545.5,311.21 546.0,310.64 546.5,310.61 547.0,310.88 547.5,310.16 548.0,311.08 548.5,310.74 549.0,310.95 549.5,310.43 550.0,310.96 550.5,310.41 551.0,311.16 551.5,311.24 552.0,311.14 552.5,310.96 553.0,311.02 553.5,309.51 554.0,311.11 554.5,310.61 555.0,310.77 555.5,310.60 556.0,310.10 556.5,310.49 557.0,311.03 557.5,311.37 558.0,310.45 558.5,310.32 559.0,311.38 559.5,310.33 560.0,311.66 560.5,310.75 561.0,310.33 561.5,311.17 562.0,311.49 562.5,310.08 563.0,311.42 563.5,310.59 564.0,311.39 564.5,310.55 565.0,310.01 565.5,310.94 566.0,311.13 566.5,311.66 567.0,311.49 567.5,311.02 568.0,310.60 568.5,310.47 569.0,310.57 569.5,310.33 570.0,310.57 570.5,309.55 571.0,310.77 571.5,310.68 572.0,311.84 572.5,311.02 573.0,310.46 573.5,310.93 574.0,310.12 574.5,310.39 575.0,309.82 575.5,311.30 576.0,310.91 576.5,310.11 577.0,310.60 577.5,311.05 578.0,310.84 578.5,310.78 579.0,310.21 579.5,310.29 580.0,310.61 580.5,310.97 581.0,310.16 581.5,310.01 582.0,311.01 582.5,310.05 583.0,310.93 583.5,310.52 584.0,310.78 584.5,311.12 585.0,310.60 585.5,310.59 586.0,309.76 586.5,309.78 587.0,310.29 587.5,310.58 588.0,310.38 588.5,310.62 589.0,309.49 589.5,309.15 590.0,309.11 590.5,308.10 591.0,307.21 591.5,305.47 592.0,304.44 592.5,300.71 593.0,297.73 593.5,292.78 594.0,291.06 594.5,290.47 595.0,294.58 595.5,297.58 596.0,301.63 596.5,304.97 597.0,305.88 597.5,307.47 598.0,308.00 598.5,307.71 599.0,309.26 599.5,309.59 600.0,309.11 600.5,310.03 601.0,309.55 601.5,309.57 602.0,310.11 602.5,309.88 603.0,311.28 603.5,309.60 604.0,310.68 604.5,310.83 605.0,309.52 605.5,309.67 606.0,310.72 606.5,310.28 607.0,310.69 607.5,311.04 608.0,310.38 608.5,310.08 609.0,309.35 609.5,310.68 610.0,310.18 610.5,310.75 611.0,310.72 611.5,310.00 612.0,311.40 612.5,311.12 613.0,311.02 613.5,310.11 614.0,310.47 614.5,310.41 615.0,310.47 615.5,310.16 616.0,310.86 616.5,310.77 617.0,310.83 617.5,310.44 618.0,311.25 618.5,310.76 619.0,309.44 619.5,310.39 620.0,310.65 620.5,311.11 621.0,310.54 621.5,310.56 622.0,310.37 622.5,310.97 623.0,310.47 623.5,310.39 624.0,310.33 624.5,310.91 625.0,310.41 625.5,309.90 626.0,310.92 626.5,310.32 627.0,310.79 627.5,310.79 628.0,311.15 628.5,311.06 629.0,310.32 629.5,310.48 630.0,309.96 630.5,311.26 631.0,310.67 631.5,311.06 632.0,310.23 632.5,309.38 633.0,310.87 633.5,310.06 634.0,309.83 634.5,309.44 635.0,309.20 635.5,308.49 636.0,306.73 636.5,307.08 637.0,305.60 637.5,305.25 638.0,306.40 638.5,306.67 639.0,306.95 639.5,307.11 640.0,308.74 640.5,309.47 641.0,309.61 641.5,309.37 642.0,309.77 642.5,309.69 643.0,310.45 643.5,310.78 644.0,310.92 644.5,310.17 645.0,310.63 645.5,310.80 646.0,310.34 646.5,310.52 647.0,311.56 647.5,310.71 648.0,311.02 648.5,310.44 649.0,310.66 649.5,309.88 650.0,310.64 650.5,311.20 651.0,311.61 651.5,311.21 652.0,310.98 652.5,310.70 653.0,310.41 653.5,310.61 654.0,310.95 654.5,310.33 655.0,311.10 655.5,310.24 656.0,309.88 656.5,310.22 657.0,309.93 657.5,310.06 658.0,311.19 658.5,310.58 659.0,310.77 659.5,311.19 660.0,311.23 660.5,310.44 661.0,311.26 661.5,310.83 662.0,310.65 662.5,310.85 663.0,310.00 663.5,310.28 664.0,310.58 664.5,310.89 665.0,310.44 665.5,310.54 666.0,311.03 666.5,311.21 667.0,310.91 667.5,311.12 668.0,310.35 668.5,310.37 669.0,310.63 669.5,310.33 670.0,310.20 670.5,311.14 671.0,310.27 671.5,309.88 672.0,310.48 672.5,311.02 673.0,310.15 673.5,310.57 674.0,309.70 674.5,309.51 675.0,309.21 675.5,309.16 676.0,309.63 676.5,307.67 677.0,308.05 677.5,305.67 678.0,304.46 678.5,303.07 679.0,300.98 679.5,299.16 680.0,297.63 680.5,299.20 681.0,300.24 681.5,303.85 682.0,304.47 682.5,306.21 683.0,306.80 683.5,307.97 684.0,308.22 684.5,309.67 685.0,309.40 685.5,309.99 686.0,309.58 686.5,309.79 687.0,310.69 687.5,309.75 688.0,309.44 688.5,310.49 689.0,309.84 689.5,310.20 690.0,310.84 690.5,310.09 691.0,310.88 691.5,310.20 692.0,311.20 692.5,311.14 693.0,310.35 693.5,310.48 694.0,310.21 694.5,310.68 695.0,311.12 695.5,309.96 696.0,311.03 696.5,310.03 697.0,310.25 697.5,309.83 698.0,311.59 698.5,310.67 699.0,310.76 699.5,310.35 700.0,311.13 700.5,309.71 701.0,310.67 701.5,311.65 702.0,310.49 702.5,310.67 703.0,310.96 703.5,310.29 704.0,310.67 704.5,311.09 705.0,310.74 705.5,310.82 706.0,310.49 706.5,310.78 707.0,310.66 707.5,311.29 708.0,310.95 708.5,310.51 709.0,309.51 709.5,310.92 710.0,310.93 710.5,310.16 711.0,309.66 711.5,310.03 712.0,310.94 712.5,310.02 713.0,310.26 713.5,310.53 714.0,310.94 714.5,310.33 715.0,310.23 715.5,309.95 716.0,310.82 716.5,310.41 717.0,309.67 717.5,308.76 718.0,308.57 718.5,308.53 719.0,307.06 719.5,306.68 720.0,305.17 720.5,303.84 721.0,302.97 721.5,302.50 722.0,302.29 722.5,303.56 723.0,306.06 723.5,305.74 724.0,307.18 724.5,308.75 725.0,308.86 725.5,309.03 726.0,309.13 726.5,310.19 727.0,310.56"/>
<polyline fill="none" stroke="#a57ac8" stroke-width="2.2" stroke-linejoin="round" points="62.0,260.02 62.5,260.26 63.0,259.94 63.5,259.25 64.0,260.29 64.5,259.14 65.0,259.60 65.5,259.82 66.0,260.09 66.5,259.88 67.0,259.87 67.5,259.35 68.0,259.11 68.5,259.72 69.0,259.37 69.5,259.10 70.0,259.12 70.5,259.47 71.0,258.86 71.5,259.09 72.0,258.96 72.5,259.77 73.0,259.88 73.5,260.60 74.0,259.02 74.5,259.39 75.0,260.10 75.5,259.59 76.0,259.54 76.5,260.46 77.0,259.54 77.5,259.17 78.0,259.10 78.5,259.84 79.0,259.83 79.5,259.07 80.0,259.25 80.5,259.93 81.0,259.95 81.5,259.40 82.0,259.97 82.5,259.95 83.0,258.89 83.5,259.55 84.0,259.88 84.5,259.43 85.0,258.73 85.5,259.56 86.0,260.03 86.5,260.40 87.0,258.71 87.5,260.87 88.0,259.18 88.5,260.12 89.0,260.25 89.5,260.13 90.0,259.76 90.5,259.17 91.0,259.97 91.5,259.37 92.0,258.56 92.5,260.96 93.0,260.01 93.5,260.51 94.0,259.28 94.5,260.35 95.0,260.41 95.5,260.39 96.0,259.68 96.5,259.15 97.0,259.61 97.5,258.70 98.0,258.92 98.5,259.73 99.0,259.24 99.5,259.62 100.0,259.64 100.5,260.56 101.0,260.27 101.5,259.67 102.0,260.23 102.5,259.34 103.0,259.54 103.5,260.10 104.0,259.13 104.5,259.56 105.0,259.09 105.5,259.74 106.0,260.42 106.5,259.35 107.0,259.79 107.5,259.28 108.0,259.17 108.5,259.13 109.0,260.34 109.5,260.75 110.0,259.90 110.5,259.36 111.0,260.00 111.5,259.54 112.0,260.05 112.5,259.82 113.0,259.81 113.5,259.96 114.0,259.43 114.5,259.50 115.0,258.91 115.5,259.49 116.0,259.05 116.5,259.62 117.0,259.25 117.5,259.73 118.0,259.89 118.5,259.05 119.0,259.32 119.5,259.26 120.0,260.02 120.5,260.45 121.0,260.07 121.5,259.53 122.0,260.34 122.5,259.00 123.0,260.36 123.5,259.39 124.0,258.43 124.5,260.88 125.0,260.39 125.5,259.22 126.0,259.76 126.5,259.59 127.0,259.73 127.5,259.01 128.0,259.37 128.5,259.89 129.0,259.78 129.5,260.22 130.0,259.72 130.5,260.74 131.0,259.36 131.5,259.80 132.0,258.82 132.5,259.11 133.0,260.28 133.5,259.25 134.0,259.92 134.5,259.65 135.0,259.21 135.5,259.52 136.0,259.44 136.5,259.46 137.0,260.01 137.5,259.97 138.0,259.41 138.5,259.27 139.0,259.80 139.5,259.63 140.0,260.14 140.5,260.87 141.0,260.05 141.5,259.66 142.0,259.59 142.5,259.28 143.0,259.26 143.5,259.22 144.0,259.49 144.5,259.48 145.0,260.00 145.5,259.49 146.0,259.58 146.5,259.12 147.0,260.40 147.5,259.89 148.0,260.47 148.5,260.02 149.0,260.33 149.5,259.55 150.0,259.98 150.5,260.87 151.0,259.10 151.5,260.18 152.0,260.42 152.5,259.84 153.0,259.99 153.5,260.22 154.0,259.34 154.5,259.83 155.0,259.24 155.5,259.33 156.0,259.35 156.5,259.57 157.0,259.70 157.5,259.84 158.0,258.97 158.5,260.54 159.0,260.15 159.5,259.95 160.0,259.45 160.5,259.57 161.0,259.86 161.5,259.79 162.0,258.82 162.5,259.93 163.0,260.92 163.5,258.72 164.0,260.02 164.5,259.72 165.0,259.49 165.5,260.17 166.0,258.97 166.5,259.58 167.0,260.16 167.5,259.38 168.0,259.25 168.5,259.47 169.0,259.18 169.5,260.06 170.0,258.88 170.5,259.65 171.0,258.60 171.5,259.41 172.0,258.95 172.5,257.67 173.0,258.68 173.5,257.95 174.0,257.90 174.5,258.32 175.0,256.32 175.5,255.05 176.0,253.95 176.5,249.48 177.0,244.51 177.5,239.49 178.0,241.11 178.5,247.31 179.0,252.54 179.5,255.22 180.0,256.40 180.5,257.36 181.0,257.87 181.5,258.05 182.0,259.49 182.5,258.80 183.0,258.42 183.5,258.84 184.0,259.48 184.5,259.52 185.0,259.21 185.5,259.02 186.0,259.38 186.5,258.62 187.0,258.82 187.5,259.82 188.0,259.25 188.5,259.66 189.0,260.07 189.5,259.82 190.0,259.54 190.5,260.52 191.0,259.86 191.5,259.39 192.0,259.90 192.5,259.76 193.0,259.18 193.5,259.62 194.0,259.51 194.5,258.68 195.0,259.52 195.5,259.47 196.0,259.40 196.5,258.85 197.0,259.44 197.5,259.59 198.0,259.66 198.5,259.09 199.0,259.91 199.5,259.06 200.0,259.52 200.5,260.23 201.0,259.30 201.5,259.39 202.0,260.12 202.5,259.45 203.0,259.49 203.5,259.73 204.0,260.11 204.5,258.61 205.0,259.25 205.5,259.17 206.0,259.13 206.5,259.24 207.0,259.24 207.5,259.77 208.0,259.22 208.5,259.69 209.0,259.82 209.5,259.30 210.0,259.69 210.5,260.39 211.0,259.78 211.5,259.34 212.0,259.60 212.5,259.21 213.0,259.76 213.5,260.03 214.0,259.25 214.5,259.53 215.0,260.14 215.5,259.40 216.0,259.71 216.5,259.16 217.0,259.25 217.5,259.39 218.0,260.60 218.5,259.44 219.0,259.39 219.5,259.37 220.0,259.55 220.5,259.92 221.0,259.70 221.5,260.54 222.0,259.71 222.5,260.27 223.0,259.74 223.5,259.89 224.0,258.96 224.5,259.55 225.0,259.58 225.5,259.50 226.0,258.64 226.5,260.00 227.0,259.43 227.5,259.40 228.0,259.48 228.5,259.49 229.0,259.78 229.5,259.02 230.0,259.17 230.5,259.72 231.0,259.65 231.5,259.41 232.0,259.32 232.5,259.20 233.0,259.55 233.5,260.10 234.0,259.09 234.5,260.25 235.0,259.94 235.5,259.35 236.0,259.90 236.5,258.89 237.0,258.76 237.5,258.96 238.0,259.35 238.5,259.38 239.0,259.29 239.5,259.56 240.0,258.55 240.5,259.72 241.0,258.86 241.5,259.19 242.0,259.29 242.5,258.95 243.0,258.84 243.5,259.00 244.0,259.44 244.5,259.70 245.0,259.67 245.5,258.96 246.0,259.04 246.5,258.96 247.0,259.56 247.5,258.43 248.0,259.88 248.5,259.09 249.0,258.93 249.5,259.42 250.0,259.70 250.5,259.37 251.0,259.66 251.5,259.21 252.0,259.67 252.5,259.63 253.0,258.98 253.5,259.63 254.0,259.00 254.5,258.90 255.0,258.38 255.5,258.58 256.0,258.97 256.5,257.93 257.0,258.70 257.5,258.42 258.0,258.23 258.5,256.93 259.0,257.65 259.5,257.72 260.0,256.76 260.5,256.74 261.0,255.13 261.5,255.87 262.0,254.44 262.5,253.99 263.0,251.04 263.5,249.20 264.0,243.17 264.5,233.08 265.0,214.06 265.5,186.90 266.0,154.63 266.5,123.62 267.0,114.98 267.5,134.21 268.0,166.89 268.5,199.67 269.0,223.61 269.5,237.39 270.0,245.18 270.5,250.82 271.0,253.15 271.5,254.47 272.0,255.62 272.5,255.45 273.0,256.34 273.5,256.25 274.0,256.60 274.5,257.98 275.0,257.48 275.5,259.02 276.0,258.20 276.5,258.03 277.0,258.80 277.5,259.37 278.0,258.87 278.5,258.19 279.0,258.98 279.5,259.50 280.0,258.72 280.5,258.64 281.0,259.49 281.5,259.14 282.0,258.62 282.5,258.98 283.0,258.84 283.5,259.34 284.0,259.29 284.5,259.78 285.0,259.60 285.5,258.60 286.0,259.50 286.5,259.74 287.0,259.56 287.5,259.83 288.0,259.13 288.5,258.97 289.0,259.82 289.5,258.94 290.0,258.45 290.5,259.90 291.0,259.12 291.5,259.32 292.0,258.83 292.5,258.87 293.0,258.95 293.5,259.32 294.0,259.65 294.5,258.46 295.0,259.84 295.5,258.97 296.0,259.03 296.5,259.82 297.0,259.48 297.5,258.83 298.0,260.35 298.5,259.14 299.0,259.64 299.5,259.62 300.0,260.17 300.5,259.33 301.0,259.99 301.5,259.21 302.0,260.05 302.5,259.20 303.0,259.38 303.5,260.40 304.0,259.69 304.5,259.60 305.0,260.56 305.5,259.71 306.0,259.18 306.5,259.88 307.0,259.02 307.5,260.06 308.0,260.09 308.5,259.29 309.0,259.26 309.5,259.62 310.0,259.55 310.5,259.10 311.0,259.80 311.5,258.62 312.0,259.34 312.5,259.35 313.0,259.41 313.5,259.67 314.0,258.97 314.5,259.79 315.0,259.44 315.5,259.22 316.0,258.90 316.5,258.97 317.0,259.66 317.5,259.06 318.0,259.52 318.5,259.96 319.0,259.94 319.5,260.16 320.0,259.32 320.5,258.95 321.0,259.89 321.5,259.56 322.0,259.91 322.5,259.39 323.0,259.91 323.5,259.73 324.0,259.65 324.5,259.53 325.0,259.45 325.5,259.35 326.0,259.31 326.5,259.61 327.0,258.88 327.5,259.84 328.0,258.94 328.5,259.36 329.0,258.78 329.5,258.60 330.0,259.49 330.5,258.27 331.0,257.63 331.5,257.63 332.0,257.47 332.5,258.14 333.0,256.66 333.5,256.13 334.0,254.00 334.5,252.64 335.0,249.57 335.5,244.84 336.0,235.74 336.5,226.61 337.0,221.29 337.5,225.88 338.0,236.04 338.5,243.91 339.0,248.22 339.5,252.75 340.0,254.70 340.5,255.52 341.0,255.96 341.5,257.84 342.0,257.73 342.5,258.41 343.0,258.84 343.5,258.18 344.0,258.95 344.5,258.61 345.0,258.80 345.5,258.88 346.0,258.99 346.5,259.56 347.0,259.17 347.5,259.10 348.0,259.08 348.5,259.40 349.0,258.87 349.5,259.08 350.0,259.31 350.5,259.10 351.0,259.32 351.5,259.12 352.0,260.31 352.5,260.02 353.0,259.64 353.5,259.42 354.0,260.44 354.5,259.61 355.0,259.44 355.5,259.62 356.0,259.63 356.5,260.13 357.0,259.50 357.5,260.46 358.0,259.12 358.5,259.83 359.0,259.08 359.5,260.35 360.0,259.39 360.5,259.51 361.0,259.96 361.5,260.11 362.0,259.04 362.5,259.39 363.0,258.92 363.5,259.61 364.0,259.51 364.5,259.40 365.0,259.25 365.5,259.38 366.0,259.22 366.5,259.79 367.0,260.24 367.5,258.69 368.0,259.50 368.5,259.37 369.0,259.78 369.5,259.13 370.0,259.49 370.5,259.08 371.0,259.86 371.5,259.59 372.0,259.47 372.5,259.71 373.0,259.43 373.5,258.84 374.0,259.80 374.5,259.66 375.0,259.46 375.5,259.97 376.0,260.07 376.5,259.02 377.0,259.16 377.5,260.20 378.0,260.13 378.5,259.16 379.0,258.95 379.5,259.18 380.0,259.24 380.5,258.74 381.0,259.45 381.5,258.85 382.0,258.87 382.5,259.81 383.0,259.07 383.5,259.33 384.0,259.62 384.5,259.68 385.0,259.14 385.5,259.28 386.0,258.85 386.5,259.97 387.0,259.43 387.5,258.59 388.0,259.03 388.5,259.28 389.0,259.09 389.5,259.60 390.0,259.28 390.5,258.28 391.0,258.30 391.5,257.55 392.0,257.96 392.5,257.56 393.0,258.23 393.5,256.42 394.0,254.53 394.5,253.82 395.0,252.07 395.5,248.04 396.0,242.64 396.5,234.37 397.0,224.34 397.5,218.59 398.0,223.78 398.5,234.88 399.0,242.78 399.5,248.38 400.0,251.40 400.5,253.77 401.0,255.76 401.5,255.65 402.0,256.99 402.5,257.81 403.0,257.68 403.5,258.23 404.0,257.84 404.5,259.11 405.0,259.16 405.5,258.89 406.0,258.09 406.5,258.49 407.0,259.47 407.5,259.86 408.0,259.28 408.5,259.75 409.0,258.96 409.5,259.18 410.0,259.30 410.5,259.51 411.0,258.66 411.5,259.79 412.0,259.98 412.5,258.89 413.0,258.81 413.5,259.59 414.0,259.15 414.5,258.39 415.0,259.83 415.5,259.55 416.0,259.27 416.5,260.45 417.0,259.57 417.5,259.17 418.0,259.56 418.5,259.06 419.0,259.19 419.5,259.71 420.0,259.29 420.5,259.34 421.0,260.30 421.5,259.94 422.0,259.91 422.5,259.79 423.0,259.78 423.5,260.22 424.0,259.55 424.5,260.40 425.0,259.14 425.5,259.45 426.0,258.95 426.5,259.42 427.0,259.81 427.5,260.23 428.0,259.27 428.5,259.58 429.0,259.41 429.5,259.24 430.0,259.04 430.5,259.60 431.0,258.79 431.5,259.62 432.0,259.58 432.5,259.27 433.0,259.11 433.5,258.94 434.0,260.40 434.5,258.96 435.0,260.26 435.5,259.82 436.0,259.38 436.5,259.02 437.0,260.01 437.5,260.31 438.0,259.11 438.5,259.38 439.0,259.98 439.5,259.65 440.0,260.39 440.5,259.22 441.0,259.71 441.5,258.88 442.0,260.37 442.5,259.08 443.0,258.39 443.5,259.29 444.0,259.25 444.5,260.13 445.0,259.07 445.5,259.15 446.0,259.34 446.5,259.69 447.0,258.81 447.5,259.13 448.0,258.65 448.5,257.93 449.0,257.54 449.5,256.65 450.0,254.90 450.5,253.96 451.0,250.38 451.5,249.29 452.0,248.52 452.5,249.52 453.0,251.66 453.5,254.14 454.0,256.12 454.5,257.36 455.0,257.88 455.5,258.67 456.0,258.28 456.5,258.84 457.0,258.19 457.5,259.36 458.0,259.17 458.5,258.99 459.0,259.76 459.5,259.59 460.0,258.06 460.5,259.37 461.0,258.73 461.5,259.89 462.0,260.55 462.5,259.21 463.0,259.49 463.5,259.36 464.0,259.64 464.5,259.78 465.0,260.08 465.5,259.06 466.0,260.22 466.5,259.10 467.0,259.65 467.5,260.05 468.0,259.85 468.5,259.11 469.0,259.22 469.5,259.33 470.0,259.52 470.5,260.06 471.0,258.96 471.5,259.75 472.0,259.82 472.5,259.79 473.0,259.75 473.5,260.22 474.0,259.76 474.5,259.92 475.0,259.79 475.5,260.34 476.0,258.67 476.5,260.10 477.0,259.40 477.5,259.39 478.0,259.08 478.5,258.67 479.0,259.33 479.5,259.19 480.0,259.71 480.5,258.82 481.0,260.12 481.5,259.59 482.0,259.35 482.5,259.13 483.0,259.09 483.5,258.92 484.0,259.17 484.5,259.41 485.0,259.31 485.5,258.74 486.0,259.24 486.5,258.93 487.0,259.39 487.5,260.13 488.0,259.54 488.5,259.09 489.0,258.47 489.5,258.52 490.0,258.36 490.5,259.39 491.0,258.67 491.5,258.97 492.0,258.59 492.5,258.83 493.0,259.31 493.5,258.25 494.0,258.26 494.5,257.88 495.0,258.43 495.5,257.31 496.0,256.93 496.5,256.40 497.0,255.85 497.5,255.96 498.0,255.89 498.5,252.82 499.0,251.48 499.5,247.72 500.0,241.79 500.5,234.37 501.0,224.59 501.5,216.71 502.0,218.90 502.5,225.84 503.0,236.43 503.5,243.68 504.0,248.16 504.5,251.64 505.0,254.01 505.5,255.04 506.0,256.11 506.5,256.92 507.0,256.21 507.5,258.19 508.0,258.86 508.5,258.53 509.0,258.74 509.5,257.82 510.0,258.54 510.5,258.35 511.0,258.55 511.5,259.33 512.0,258.61 512.5,258.97 513.0,258.23 513.5,259.06 514.0,259.22 514.5,258.90 515.0,258.92 515.5,260.13 516.0,258.76 516.5,258.86 517.0,258.99 517.5,259.91 518.0,260.34 518.5,259.56 519.0,259.10 519.5,259.24 520.0,259.93 520.5,259.05 521.0,260.13 521.5,260.12 522.0,259.52 522.5,259.79 523.0,259.85 523.5,260.22 524.0,259.05 524.5,260.06 525.0,259.37 525.5,259.20 526.0,259.59 526.5,259.46 527.0,259.11 527.5,258.84 528.0,259.14 528.5,260.22 529.0,260.46 529.5,259.87 530.0,260.11 530.5,259.35 531.0,259.55 531.5,259.72 532.0,259.11 532.5,259.15 533.0,259.64 533.5,259.46 534.0,259.12 534.5,259.78 535.0,259.49 535.5,260.07 536.0,259.61 536.5,259.48 537.0,259.67 537.5,259.54 538.0,259.32 538.5,259.44 539.0,259.96 539.5,259.91 540.0,260.20 540.5,258.86 541.0,259.45 541.5,259.44 542.0,259.70 542.5,259.42 543.0,259.40 543.5,259.98 544.0,259.71 544.5,259.10 545.0,260.23 545.5,260.08 546.0,259.37 546.5,260.01 547.0,259.30 547.5,260.14 548.0,259.53 548.5,259.27 549.0,259.47 549.5,259.29 550.0,259.72 550.5,259.71 551.0,259.65 551.5,259.38 552.0,257.99 552.5,259.68 553.0,258.78 553.5,259.74 554.0,260.14 554.5,259.76 555.0,259.46 555.5,259.55 556.0,259.57 556.5,259.39 557.0,259.37 557.5,259.22 558.0,260.17 558.5,259.62 559.0,260.06 559.5,259.52 560.0,259.66 560.5,259.55 561.0,259.84 561.5,260.00 562.0,259.73 562.5,259.32 563.0,259.27 563.5,260.37 564.0,259.50 564.5,259.49 565.0,260.28 565.5,260.11 566.0,259.86 566.5,259.44 567.0,260.67 567.5,259.79 568.0,259.86 568.5,259.53 569.0,258.97 569.5,259.00 570.0,259.78 570.5,259.77 571.0,259.49 571.5,259.06 572.0,258.94 572.5,259.44 573.0,258.92 573.5,259.98 574.0,260.09 574.5,260.84 575.0,259.96 575.5,259.29 576.0,259.16 576.5,257.99 577.0,259.27 577.5,259.44 578.0,259.95 578.5,259.78 579.0,259.76 579.5,259.58 580.0,259.77 580.5,260.10 581.0,258.96 581.5,259.21 582.0,258.77 582.5,260.10 583.0,259.93 583.5,259.65 584.0,258.74 584.5,259.32 585.0,259.09 585.5,259.17 586.0,258.99 586.5,259.23 587.0,258.73 587.5,259.17 588.0,258.76 588.5,258.34 589.0,258.20 589.5,257.76 590.0,257.93 590.5,256.87 591.0,256.27 591.5,254.67 592.0,252.23 592.5,250.50 593.0,245.93 593.5,242.62 594.0,239.66 594.5,239.08 595.0,242.68 595.5,246.97 596.0,250.36 596.5,252.81 597.0,255.48 597.5,256.23 598.0,257.29 598.5,257.46 599.0,258.16 599.5,257.96 600.0,258.50 600.5,258.94 601.0,258.83 601.5,258.71 602.0,258.52 602.5,259.16 603.0,259.30 603.5,259.08 604.0,258.90 604.5,259.53 605.0,260.43 605.5,259.21 606.0,259.52 606.5,259.56 607.0,258.26 607.5,259.49 608.0,259.13 608.5,260.09 609.0,259.36 609.5,259.14 610.0,259.40 610.5,259.58 611.0,259.26 611.5,259.50 612.0,258.92 612.5,259.43 613.0,259.89 613.5,260.43 614.0,259.87 614.5,259.68 615.0,260.09 615.5,260.02 616.0,260.31 616.5,260.05 617.0,259.52 617.5,259.69 618.0,259.65 618.5,259.71 619.0,259.66 619.5,259.22 620.0,258.63 620.5,259.27 621.0,258.66 621.5,259.60 622.0,259.57 622.5,258.82 623.0,259.88 623.5,259.96 624.0,259.61 624.5,260.31 625.0,260.40 625.5,259.01 626.0,260.01 626.5,259.73 627.0,259.71 627.5,259.94 628.0,259.18 628.5,259.22 629.0,259.10 629.5,259.11 630.0,259.39 630.5,258.75 631.0,258.90 631.5,259.58 632.0,259.23 632.5,259.36 633.0,258.22 633.5,258.54 634.0,258.39 634.5,258.28 635.0,257.48 635.5,257.48 636.0,256.20 636.5,255.34 637.0,254.56 637.5,254.48 638.0,254.12 638.5,255.50 639.0,256.08 639.5,256.81 640.0,257.51 640.5,258.31 641.0,258.96 641.5,259.23 642.0,259.18 642.5,259.54 643.0,259.29 643.5,259.87 644.0,259.34 644.5,258.46 645.0,260.03 645.5,259.50 646.0,258.94 646.5,259.40 647.0,259.11 647.5,260.46 648.0,259.75 648.5,258.83 649.0,259.79 649.5,259.37 650.0,260.42 650.5,259.09 651.0,258.56 651.5,259.60 652.0,259.42 652.5,259.39 653.0,258.62 653.5,259.77 654.0,260.34 654.5,258.72 655.0,260.11 655.5,259.33 656.0,260.64 656.5,259.78 657.0,259.50 657.5,260.08 658.0,259.82 658.5,259.31 659.0,259.90 659.5,259.35 660.0,258.77 660.5,260.49 661.0,259.41 661.5,259.29 662.0,259.71 662.5,258.85 663.0,258.94 663.5,259.32 664.0,259.30 664.5,259.56 665.0,260.03 665.5,259.30 666.0,259.73 666.5,259.76 667.0,258.99 667.5,259.57 668.0,259.02 668.5,259.91 669.0,259.61 669.5,259.39 670.0,258.76 670.5,259.38 671.0,258.95 671.5,259.56 672.0,259.14 672.5,258.77 673.0,259.48 673.5,259.30 674.0,258.59 674.5,259.24 675.0,258.38 675.5,258.10 676.0,257.90 676.5,256.94 677.0,256.27 677.5,255.29 678.0,254.61 678.5,252.86 679.0,250.21 679.5,249.52 680.0,248.15 680.5,248.96 681.0,250.73 681.5,252.32 682.0,255.01 682.5,255.47 683.0,255.93 683.5,257.86 684.0,257.66 684.5,258.10 685.0,257.17 685.5,259.16 686.0,259.23 686.5,259.33 687.0,259.50 687.5,259.90 688.0,259.18 688.5,259.67 689.0,258.96 689.5,259.17 690.0,259.83 690.5,259.56 691.0,258.81 691.5,259.59 692.0,259.37 692.5,259.10 693.0,259.68 693.5,259.31 694.0,258.80 694.5,259.01 695.0,260.32 695.5,258.85 696.0,259.64 696.5,259.82 697.0,259.84 697.5,259.00 698.0,259.41 698.5,259.63 699.0,259.93 699.5,259.28 700.0,259.05 700.5,260.03 701.0,260.07 701.5,259.74 702.0,259.30 702.5,259.76 703.0,259.63 703.5,259.96 704.0,259.02 704.5,259.63 705.0,259.50 705.5,259.08 706.0,259.67 706.5,259.59 707.0,259.38 707.5,259.74 708.0,258.92 708.5,259.53 709.0,259.74 709.5,259.67 710.0,260.01 710.5,258.98 711.0,258.83 711.5,259.60 712.0,259.68 712.5,260.41 713.0,259.71 713.5,259.02 714.0,259.74 714.5,258.96 715.0,258.62 715.5,260.41 716.0,259.29 716.5,259.35 717.0,259.12 717.5,259.43 718.0,258.39 718.5,258.30 719.0,256.62 719.5,255.61 720.0,255.91 720.5,254.94 721.0,253.71 721.5,253.28 722.0,253.56 722.5,253.96 723.0,255.96 723.5,256.54 724.0,257.32 724.5,257.93 725.0,258.74 725.5,258.85 726.0,259.21 726.5,258.52 727.0,259.39"/>
<polyline fill="none" stroke="#be9829" stroke-width="2.2" stroke-linejoin="round" points="62.0,214.29 62.5,214.43 63.0,214.17 63.5,213.89 64.0,214.09 64.5,213.85 65.0,214.32 65.5,214.90 66.0,214.07 66.5,214.01 67.0,214.51 67.5,214.45 68.0,214.34 68.5,213.87 69.0,214.28 69.5,214.61 70.0,213.69 70.5,214.09 71.0,213.44 71.5,213.71 72.0,213.46 72.5,214.19 73.0,213.72 73.5,214.41 74.0,214.36 74.5,214.21 75.0,213.16 75.5,214.05 76.0,214.27 76.5,214.34 77.0,213.60 77.5,214.08 78.0,213.85 78.5,213.93 79.0,214.77 79.5,213.93 80.0,214.28 80.5,214.69 81.0,214.03 81.5,214.24 82.0,214.34 82.5,214.32 83.0,213.74 83.5,214.33 84.0,214.90 84.5,213.59 85.0,214.68 85.5,214.34 86.0,214.00 86.5,215.19 87.0,214.63 87.5,213.75 88.0,214.32 88.5,214.55 89.0,214.21 89.5,214.60 90.0,214.26 90.5,214.59 91.0,214.94 91.5,213.99 92.0,214.38 92.5,214.08 93.0,214.35 93.5,213.76 94.0,214.03 94.5,214.20 95.0,214.69 95.5,214.80 96.0,213.69 96.5,213.93 97.0,214.58 97.5,213.39 98.0,214.08 98.5,214.24 99.0,214.85 99.5,214.60 100.0,214.14 100.5,214.12 101.0,214.18 101.5,214.97 102.0,214.10 102.5,214.15 103.0,214.45 103.5,214.23 104.0,214.20 104.5,213.79 105.0,214.28 105.5,214.09 106.0,214.81 106.5,214.58 107.0,214.28 107.5,214.59 108.0,214.13 108.5,214.76 109.0,214.28 109.5,214.55 110.0,213.71 110.5,214.44 111.0,213.53 111.5,213.37 112.0,214.15 112.5,213.88 113.0,214.36 113.5,215.30 114.0,213.91 114.5,214.00 115.0,214.38 115.5,214.51 116.0,214.20 116.5,214.19 117.0,214.60 117.5,214.52 118.0,213.82 118.5,214.25 119.0,214.30 119.5,213.81 120.0,214.40 120.5,213.90 121.0,214.72 121.5,214.37 122.0,214.32 122.5,214.02 123.0,214.23 123.5,213.38 124.0,213.77 124.5,214.44 125.0,213.32 125.5,214.66 126.0,213.49 126.5,214.62 127.0,213.90 127.5,214.63 128.0,214.34 128.5,213.59 129.0,214.84 129.5,214.93 130.0,214.25 130.5,214.15 131.0,214.21 131.5,213.84 132.0,214.77 132.5,214.03 133.0,214.25 133.5,213.92 134.0,213.99 134.5,213.70 135.0,214.84 135.5,214.20 136.0,214.71 136.5,214.28 137.0,213.96 137.5,214.12 138.0,214.02 138.5,214.27 139.0,214.10 139.5,214.13 140.0,213.65 140.5,213.91 141.0,215.01 141.5,213.97 142.0,213.79 142.5,214.42 143.0,214.90 143.5,213.61 144.0,214.17 144.5,213.98 145.0,213.47 145.5,214.59 146.0,214.25 146.5,214.29 147.0,213.92 147.5,214.46 148.0,214.01 148.5,214.19 149.0,213.75 149.5,213.70 150.0,214.85 150.5,214.02 151.0,214.38 151.5,214.23 152.0,214.05 152.5,214.01 153.0,214.52 153.5,214.10 154.0,214.17 154.5,214.24 155.0,214.76 155.5,214.54 156.0,214.40 156.5,213.97 157.0,213.60 157.5,214.64 158.0,214.65 158.5,214.15 159.0,214.45 159.5,214.55 160.0,214.57 160.5,214.60 161.0,213.98 161.5,214.86 162.0,213.61 162.5,214.55 163.0,214.38 163.5,214.54 164.0,214.98 164.5,214.79 165.0,213.59 165.5,213.34 166.0,214.45 166.5,213.60 167.0,214.03 167.5,214.39 168.0,213.25 168.5,213.00 169.0,214.03 169.5,213.89 170.0,213.70 170.5,213.76 171.0,213.27 171.5,212.88 172.0,213.35 172.5,212.82 173.0,212.30 173.5,212.97 174.0,212.29 174.5,211.89 175.0,210.30 175.5,208.84 176.0,205.88 176.5,201.13 177.0,194.60 177.5,188.63 178.0,191.84 178.5,199.08 179.0,205.60 179.5,207.57 180.0,210.60 180.5,211.33 181.0,212.09 181.5,211.93 182.0,212.72 182.5,213.51 183.0,213.33 183.5,213.54 184.0,213.49 184.5,214.23 185.0,213.77 185.5,212.85 186.0,213.58 186.5,213.04 187.0,212.50 187.5,213.76 188.0,214.62 188.5,214.06 189.0,213.53 189.5,213.66 190.0,214.60 190.5,214.18 191.0,214.14 191.5,214.11 192.0,214.16 192.5,214.51 193.0,214.40 193.5,214.26 194.0,213.70 194.5,214.40 195.0,213.87 195.5,214.67 196.0,213.62 196.5,214.13 197.0,214.19 197.5,213.60 198.0,214.98 198.5,214.86 199.0,214.00 199.5,214.56 200.0,214.38 200.5,213.04 201.0,214.33 201.5,214.19 202.0,214.25 202.5,213.73 203.0,214.10 203.5,214.14 204.0,214.76 204.5,214.37 205.0,214.22 205.5,214.91 206.0,213.97 206.5,214.05 207.0,213.41 207.5,214.93 208.0,214.66 208.5,214.64 209.0,214.53 209.5,214.28 210.0,214.32 210.5,214.11 211.0,214.14 211.5,214.25 212.0,214.91 212.5,214.48 213.0,214.20 213.5,213.97 214.0,213.94 214.5,214.95 215.0,214.45 215.5,214.26 216.0,214.07 216.5,213.72 217.0,214.19 217.5,214.62 218.0,214.05 218.5,214.12 219.0,214.12 219.5,214.27 220.0,213.50 220.5,214.11 221.0,213.83 221.5,214.61 222.0,213.87 222.5,214.47 223.0,214.90 223.5,214.07 224.0,213.94 224.5,214.29 225.0,214.21 225.5,213.76 226.0,214.41 226.5,215.11 227.0,214.08 227.5,214.11 228.0,213.73 228.5,214.34 229.0,213.63 229.5,213.69 230.0,214.76 230.5,213.78 231.0,214.67 231.5,214.86 232.0,214.29 232.5,214.42 233.0,215.05 233.5,214.08 234.0,213.90 234.5,213.55 235.0,214.17 235.5,214.82 236.0,214.58 236.5,213.72 237.0,213.75 237.5,213.91 238.0,214.26 238.5,214.03 239.0,214.21 239.5,214.25 240.0,213.97 240.5,214.08 241.0,214.18 241.5,214.05 242.0,214.30 242.5,214.91 243.0,214.32 243.5,214.07 244.0,213.28 244.5,214.20 245.0,213.14 245.5,213.37 246.0,214.37 246.5,214.29 247.0,213.89 247.5,213.17 248.0,213.76 248.5,213.60 249.0,214.17 249.5,214.88 250.0,213.93 250.5,213.46 251.0,213.25 251.5,213.72 252.0,213.63 252.5,213.15 253.0,213.67 253.5,213.06 254.0,214.02 254.5,213.93 255.0,213.87 255.5,213.09 256.0,213.45 256.5,213.05 257.0,212.82 257.5,212.70 258.0,212.11 258.5,211.86 259.0,212.64 259.5,211.93 260.0,211.78 260.5,211.73 261.0,210.00 261.5,209.79 262.0,209.38 262.5,208.33 263.0,206.24 263.5,203.87 264.0,197.85 264.5,186.58 265.0,168.34 265.5,141.64 266.0,107.70 266.5,76.80 267.0,69.50 267.5,88.34 268.0,121.92 268.5,153.14 269.0,177.05 269.5,191.65 270.0,201.61 270.5,204.75 271.0,207.92 271.5,208.37 272.0,209.74 272.5,209.66 273.0,210.82 273.5,211.89 274.0,211.25 274.5,212.60 275.0,212.52 275.5,212.11 276.0,212.53 276.5,212.70 277.0,213.01 277.5,212.91 278.0,212.87 278.5,213.19 279.0,212.94 279.5,212.89 280.0,213.51 280.5,213.98 281.0,212.94 281.5,213.68 282.0,213.42 282.5,213.31 283.0,214.16 283.5,213.57 284.0,214.51 284.5,213.51 285.0,214.05 285.5,213.80 286.0,213.58 286.5,214.20 287.0,213.88 287.5,214.24 288.0,213.96 288.5,213.50 289.0,213.96 289.5,214.04 290.0,214.46 290.5,213.63 291.0,214.03 291.5,213.28 292.0,214.35 292.5,213.58 293.0,213.26 293.5,214.05 294.0,214.58 294.5,213.40 295.0,213.61 295.5,213.77 296.0,213.60 296.5,214.28 297.0,213.75 297.5,213.79 298.0,214.38 298.5,213.78 299.0,214.32 299.5,213.69 300.0,213.59 300.5,213.31 301.0,214.97 301.5,213.99 302.0,214.25 302.5,214.13 303.0,214.21 303.5,214.17 304.0,215.00 304.5,213.68 305.0,213.45 305.5,213.69 306.0,213.55 306.5,214.48 307.0,214.52 307.5,213.71 308.0,213.52 308.5,213.99 309.0,214.77 309.5,212.88 310.0,214.38 310.5,213.66 311.0,214.61 311.5,213.65 312.0,214.01 312.5,213.46 313.0,213.69 313.5,214.75 314.0,214.50 314.5,213.94 315.0,213.73 315.5,213.26 316.0,213.93 316.5,214.09 317.0,214.06 317.5,214.05 318.0,213.58 318.5,214.05 319.0,214.05 319.5,214.64 320.0,214.89 320.5,213.98 321.0,213.69 321.5,213.99 322.0,213.73 322.5,213.65 323.0,213.94 323.5,213.48 324.0,214.20 324.5,213.85 325.0,213.99 325.5,213.76 326.0,213.48 326.5,213.34 327.0,213.61 327.5,213.41 328.0,213.70 328.5,213.51 329.0,212.81 329.5,213.34 330.0,212.57 330.5,212.74 331.0,212.68 331.5,211.61 332.0,212.25 332.5,211.84 333.0,211.09 333.5,210.12 334.0,208.89 334.5,206.64 335.0,203.74 335.5,198.38 336.0,190.69 336.5,180.39 337.0,175.86 337.5,181.00 338.0,190.59 338.5,198.43 339.0,204.11 339.5,206.33 340.0,209.26 340.5,210.42 341.0,211.29 341.5,211.94 342.0,211.92 342.5,212.43 343.0,213.10 343.5,213.21 344.0,213.27 344.5,212.63 345.0,213.67 345.5,214.04 346.0,214.05 346.5,213.77 347.0,213.02 347.5,214.19 348.0,213.74 348.5,212.71 349.0,214.05 349.5,213.23 350.0,213.35 350.5,213.67 351.0,214.55 351.5,213.83 352.0,214.13 352.5,214.81 353.0,214.75 353.5,214.00 354.0,213.95 354.5,213.50 355.0,213.77 355.5,214.28 356.0,214.27 356.5,214.15 357.0,214.55 357.5,213.76 358.0,214.09 358.5,214.45 359.0,214.39 359.5,214.61 360.0,214.31 360.5,214.00 361.0,214.30 361.5,213.69 362.0,213.41 362.5,214.41 363.0,214.12 363.5,214.29 364.0,213.39 364.5,213.99 365.0,213.88 365.5,213.77 366.0,213.14 366.5,214.01 367.0,214.56 367.5,214.33 368.0,213.89 368.5,214.15 369.0,214.50 369.5,212.91 370.0,214.10 370.5,214.40 371.0,214.46 371.5,214.91 372.0,214.66 372.5,214.28 373.0,214.28 373.5,214.49 374.0,213.89 374.5,214.11 375.0,214.54 375.5,215.00 376.0,214.05 376.5,214.09 377.0,214.20 377.5,214.71 378.0,214.08 378.5,214.75 379.0,213.65 379.5,213.99 380.0,213.97 380.5,214.41 381.0,214.51 381.5,213.35 382.0,213.60 382.5,214.15 383.0,213.68 383.5,213.28 384.0,214.41 384.5,214.14 385.0,214.11 385.5,213.65 386.0,214.29 386.5,213.68 387.0,214.23 387.5,213.28 388.0,213.25 388.5,213.65 389.0,213.16 389.5,213.68 390.0,213.38 390.5,212.70 391.0,212.98 391.5,212.57 392.0,212.86 392.5,211.81 393.0,211.42 393.5,211.52 394.0,211.08 394.5,209.63 395.0,206.65 395.5,203.30 396.0,198.32 396.5,189.07 397.0,178.34 397.5,173.31 398.0,178.99 398.5,188.76 399.0,196.89 399.5,202.56 400.0,206.93 400.5,208.39 401.0,210.01 401.5,211.07 402.0,211.90 402.5,211.94 403.0,212.67 403.5,212.33 404.0,212.78 404.5,212.66 405.0,213.77 405.5,213.37 406.0,213.15 406.5,213.41 407.0,213.53 407.5,214.01 408.0,213.03 408.5,213.32 409.0,213.66 409.5,215.00 410.0,214.33 410.5,213.87 411.0,214.27 411.5,214.89 412.0,213.88 412.5,213.84 413.0,214.57 413.5,214.26 414.0,214.35 414.5,213.83 415.0,214.94 415.5,214.85 416.0,214.34 416.5,214.41 417.0,213.19 417.5,214.40 418.0,214.03 418.5,214.32 419.0,214.44 419.5,213.98 420.0,213.38 420.5,214.31 421.0,213.81 421.5,214.00 422.0,213.88 422.5,214.00 423.0,213.12 423.5,214.71 424.0,214.28 424.5,214.67 425.0,215.06 425.5,214.18 426.0,213.36 426.5,213.77 427.0,213.63 427.5,213.95 428.0,214.21 428.5,213.28 429.0,214.33 429.5,213.50 430.0,214.31 430.5,214.13 431.0,214.03 431.5,214.14 432.0,213.93 432.5,213.90 433.0,213.41 433.5,214.16 434.0,215.00 434.5,215.05 435.0,214.76 435.5,214.47 436.0,213.85 436.5,214.80 437.0,214.12 437.5,214.11 438.0,214.00 438.5,214.17 439.0,213.92 439.5,214.07 440.0,213.61 440.5,213.92 441.0,215.10 441.5,214.03 442.0,213.93 442.5,214.26 443.0,214.31 443.5,213.47 444.0,213.84 444.5,214.31 445.0,213.96 445.5,213.84 446.0,214.41 446.5,213.30 447.0,213.52 447.5,213.08 448.0,213.76 448.5,211.87 449.0,211.92 449.5,211.16 450.0,210.44 450.5,208.61 451.0,206.68 451.5,203.22 452.0,203.62 452.5,204.55 453.0,206.70 453.5,209.37 454.0,210.29 454.5,210.83 455.0,212.29 455.5,212.22 456.0,212.89 456.5,213.55 457.0,213.67 457.5,214.36 458.0,213.64 458.5,213.11 459.0,213.52 459.5,213.49 460.0,213.39 460.5,214.17 461.0,213.71 461.5,213.13 462.0,214.35 462.5,214.00 463.0,214.23 463.5,214.13 464.0,214.38 464.5,214.12 465.0,214.66 465.5,214.31 466.0,214.30 466.5,214.31 467.0,213.47 467.5,214.06 468.0,214.02 468.5,214.23 469.0,213.53 469.5,214.88 470.0,214.19 470.5,213.60 471.0,213.38 471.5,214.02 472.0,214.11 472.5,213.82 473.0,214.19 473.5,213.86 474.0,214.39 474.5,213.82 475.0,214.12 475.5,214.58 476.0,215.29 476.5,213.68 477.0,213.92 477.5,213.75 478.0,214.47 478.5,213.60 479.0,213.89 479.5,214.09 480.0,213.66 480.5,213.66 481.0,213.87 481.5,213.13 482.0,213.42 482.5,213.87 483.0,214.12 483.5,213.96 484.0,213.23 484.5,213.81 485.0,214.36 485.5,214.23 486.0,213.93 486.5,213.55 487.0,214.21 487.5,213.64 488.0,213.35 488.5,213.48 489.0,214.46 489.5,213.87 490.0,214.26 490.5,213.47 491.0,214.05 491.5,213.30 492.0,213.43 492.5,214.53 493.0,213.66 493.5,212.97 494.0,213.02 494.5,213.04 495.0,213.23 495.5,212.21 496.0,211.33 496.5,211.58 497.0,211.18 497.5,210.52 498.0,210.08 498.5,208.20 499.0,206.27 499.5,202.07 500.0,197.80 500.5,190.79 501.0,180.69 501.5,173.01 502.0,173.95 502.5,183.08 503.0,191.14 503.5,198.57 504.0,203.57 504.5,206.75 505.0,208.20 505.5,209.85 506.0,210.51 506.5,211.35 507.0,211.74 507.5,211.67 508.0,212.48 508.5,213.13 509.0,212.50 509.5,212.98 510.0,213.53 510.5,212.86 511.0,213.52 511.5,213.04 512.0,214.10 512.5,214.69 513.0,214.61 513.5,213.65 514.0,214.13 514.5,213.88 515.0,213.91 515.5,214.59 516.0,213.33 516.5,214.42 517.0,213.94 517.5,214.62 518.0,214.09 518.5,213.71 519.0,214.16 519.5,214.38 520.0,214.07 520.5,214.29 521.0,213.85 521.5,213.13 522.0,214.50 522.5,214.42 523.0,214.18 523.5,214.15 524.0,214.60 524.5,213.93 525.0,213.82 525.5,214.06 526.0,214.69 526.5,213.53 527.0,214.70 527.5,213.88 528.0,213.68 528.5,214.74 529.0,214.14 529.5,213.60 530.0,214.02 530.5,214.61 531.0,214.73 531.5,214.00 532.0,214.38 532.5,214.52 533.0,213.91 533.5,214.36 534.0,214.19 534.5,213.97 535.0,213.99 535.5,214.24 536.0,214.23 536.5,213.96 537.0,214.03 537.5,214.72 538.0,214.32 538.5,214.62 539.0,214.76 539.5,214.49 540.0,215.25 540.5,213.86 541.0,214.59 541.5,214.09 542.0,215.07 542.5,215.00 543.0,213.35 543.5,213.80 544.0,214.53 544.5,214.59 545.0,214.57 545.5,214.20 546.0,214.44 546.5,214.53 547.0,214.20 547.5,214.70 548.0,213.22 548.5,214.52 549.0,213.77 549.5,214.67 550.0,214.14 550.5,213.84 551.0,214.41 551.5,213.83 552.0,213.83 552.5,213.54 553.0,214.23 553.5,214.46 554.0,214.70 554.5,214.18 555.0,214.71 555.5,214.25 556.0,214.20 556.5,214.50 557.0,214.72 557.5,214.09 558.0,214.13 558.5,214.17 559.0,214.28 559.5,213.83 560.0,214.70 560.5,214.06 561.0,214.44 561.5,213.86 562.0,214.40 562.5,214.41 563.0,214.04 563.5,215.14 564.0,214.40 564.5,215.03 565.0,214.66 565.5,213.93 566.0,214.06 566.5,214.42 567.0,214.25 567.5,214.25 568.0,214.09 568.5,213.41 569.0,214.12 569.5,213.22 570.0,214.38 570.5,213.88 571.0,213.89 571.5,214.11 572.0,214.33 572.5,213.56 573.0,213.41 573.5,213.71 574.0,213.27 574.5,213.75 575.0,214.90 575.5,213.70 576.0,214.46 576.5,213.55 577.0,214.29 577.5,214.01 578.0,214.12 578.5,214.39 579.0,214.92 579.5,214.20 580.0,214.16 580.5,213.66 581.0,214.34 581.5,213.95 582.0,214.42 582.5,214.01 583.0,214.79 583.5,213.09 584.0,213.82 584.5,214.31 585.0,213.72 585.5,213.48 586.0,213.66 586.5,213.09 587.0,213.69 587.5,214.64 588.0,213.94 588.5,212.78 589.0,212.71 589.5,212.67 590.0,212.98 590.5,211.68 591.0,211.03 591.5,210.67 592.0,209.04 592.5,206.17 593.0,202.77 593.5,199.19 594.0,197.21 594.5,196.82 595.0,200.87 595.5,203.65 596.0,207.08 596.5,209.87 597.0,211.05 597.5,210.99 598.0,212.55 598.5,213.12 599.0,212.57 599.5,212.71 600.0,213.26 600.5,212.73 601.0,214.22 601.5,212.57 602.0,213.23 602.5,213.67 603.0,213.74 603.5,213.96 604.0,214.04 604.5,213.86 605.0,214.49 605.5,213.04 606.0,214.03 606.5,213.72 607.0,214.12 607.5,214.18 608.0,213.68 608.5,213.81 609.0,214.47 609.5,214.28 610.0,213.83 610.5,215.06 611.0,215.19 611.5,213.49 612.0,214.29 612.5,215.29 613.0,214.52 613.5,214.27 614.0,214.08 614.5,213.94 615.0,214.09 615.5,213.94 616.0,214.52 616.5,214.01 617.0,213.99 617.5,213.65 618.0,214.17 618.5,213.79 619.0,214.12 619.5,214.67 620.0,214.36 620.5,214.43 621.0,214.36 621.5,214.22 622.0,214.14 622.5,214.06 623.0,214.54 623.5,213.70 624.0,214.79 624.5,214.20 625.0,213.85 625.5,213.96 626.0,213.87 626.5,214.24 627.0,213.84 627.5,214.67 628.0,213.80 628.5,213.12 629.0,213.80 629.5,213.21 630.0,214.08 630.5,214.55 631.0,214.34 631.5,213.42 632.0,213.63 632.5,214.72 633.0,213.97 633.5,213.71 634.0,213.99 634.5,214.35 635.0,213.45 635.5,212.43 636.0,211.92 636.5,211.39 637.0,210.27 637.5,209.79 638.0,210.42 638.5,210.44 639.0,211.48 639.5,212.18 640.0,213.74 640.5,212.73 641.0,213.37 641.5,213.57 642.0,213.98 642.5,214.36 643.0,213.73 643.5,213.63 644.0,213.30 644.5,213.65 645.0,214.33 645.5,214.13 646.0,213.67 646.5,213.97 647.0,214.16 647.5,214.38 648.0,213.90 648.5,214.06 649.0,213.36 649.5,213.66 650.0,214.91 650.5,213.20 651.0,214.04 651.5,214.29 652.0,214.03 652.5,213.83 653.0,214.17 653.5,214.20 654.0,214.16 654.5,213.36 655.0,214.14 655.5,213.82 656.0,213.95 656.5,214.30 657.0,214.49 657.5,214.60 658.0,213.97 658.5,214.61 659.0,214.72 659.5,214.70 660.0,214.81 660.5,214.12 661.0,214.10 661.5,214.55 662.0,213.56 662.5,214.26 663.0,213.93 663.5,213.99 664.0,213.37 664.5,213.74 665.0,214.13 665.5,214.53 666.0,214.56 666.5,214.07 667.0,214.01 667.5,213.71 668.0,214.25 668.5,213.94 669.0,214.30 669.5,214.79 670.0,213.96 670.5,213.28 671.0,213.53 671.5,213.22 672.0,213.29 672.5,214.35 673.0,213.80 673.5,212.93 674.0,213.80 674.5,213.93 675.0,213.01 675.5,212.61 676.0,212.38 676.5,212.12 677.0,211.50 677.5,210.69 678.0,209.32 678.5,207.65 679.0,205.96 679.5,204.17 680.0,202.59 680.5,203.81 681.0,205.49 681.5,206.94 682.0,209.19 682.5,209.99 683.0,210.80 683.5,212.64 684.0,212.83 684.5,213.01 685.0,213.59 685.5,213.84 686.0,213.66 686.5,212.50 687.0,213.39 687.5,213.56 688.0,213.38 688.5,213.96 689.0,214.45 689.5,213.73 690.0,213.47 690.5,214.92 691.0,213.83 691.5,213.50 692.0,214.18 692.5,214.28 693.0,213.78 693.5,214.47 694.0,213.90 694.5,213.72 695.0,214.22 695.5,214.49 696.0,213.87 696.5,214.31 697.0,214.13 697.5,215.44 698.0,213.86 698.5,214.80 699.0,214.16 699.5,214.13 700.0,214.52 700.5,214.60 701.0,214.77 701.5,214.35 702.0,213.93 702.5,213.96 703.0,214.43 703.5,214.46 704.0,214.83 704.5,214.39 705.0,214.68 705.5,214.89 706.0,214.28 706.5,213.53 707.0,213.67 707.5,213.55 708.0,214.91 708.5,213.81 709.0,214.74 709.5,214.45 710.0,214.95 710.5,214.63 711.0,214.12 711.5,214.07 712.0,214.19 712.5,214.22 713.0,213.89 713.5,214.10 714.0,214.82 714.5,213.30 715.0,214.15 715.5,213.59 716.0,214.03 716.5,214.26 717.0,213.75 717.5,213.97 718.0,212.69 718.5,213.59 719.0,212.41 719.5,212.44 720.0,211.64 720.5,209.79 721.0,210.12 721.5,210.37 722.0,211.17 722.5,211.08 723.0,211.68 723.5,211.53 724.0,213.33 724.5,213.91 725.0,213.42 725.5,213.53 726.0,213.05 726.5,214.29 727.0,215.18"/>
<rect x="61" y="9" width="667" height="527" fill="none" stroke="#000" stroke-width="2"/>
<rect x="107" y="530" width="2" height="5" fill="#000"/>
<rect x="155" y="524" width="2" height="11" fill="#000"/>
<rect x="203" y="530" width="2" height="5" fill="#000"/>
<rect x="251" y="524" width="2" height="11" fill="#000"/>
<rect x="298" y="530" width="2" height="5" fill="#000"/>
<rect x="346" y="524" width="2" height="11" fill="#000"/>
<rect x="394" y="530" width="2" height="5" fill="#000"/>
<rect x="441" y="524" width="2" height="11" fill="#000"/>
<rect x="489" y="530" width="2" height="5" fill="#000"/>
<rect x="537" y="524" width="2" height="11" fill="#000"/>
<rect x="584" y="530" width="2" height="5" fill="#000"/>
<rect x="632" y="524" width="2" height="11" fill="#000"/>
<rect x="680" y="530" width="2" height="5" fill="#000"/>
<circle cx="177" cy="178.5" r="5" fill="#000"/>
<circle cx="267.2" cy="58.9" r="5" fill="#000"/>
<circle cx="339.2" cy="163.5" r="5" fill="#000"/>
<circle cx="400.4" cy="163.6" r="5" fill="#000"/>
<circle cx="452" cy="193.9" r="5" fill="#000"/>
<circle cx="502" cy="165.2" r="5" fill="#000"/>
<circle cx="602.2" cy="197" r="5" fill="#000"/>
<circle cx="638.1" cy="201.4" r="5" fill="#000"/>
<circle cx="687.3" cy="202.3" r="5" fill="#000"/>
<circle cx="721.7" cy="199.8" r="5" fill="#000"/>
<circle cx="581.8" cy="28.3" r="4.7" fill="#000"/>
<rect x="327.2" y="183.1" width="8.8" height="7.7" fill="#e0141b"/>
<rect x="387.2" y="186" width="7.9" height="8.2" fill="#e0141b"/>
<rect x="589.4" y="183.5" width="7.6" height="7.4" fill="#e0141b"/>
<rect x="674.4" y="191.2" width="7.6" height="8.4" fill="#e0141b"/>
<rect x="511.3" y="23.8" width="7.8" height="8.5" fill="#e0141b"/>
<rect x="649.4" y="22.6" width="7.5" height="6.9" fill="#00008c"/>
<rect x="129.3" y="469.3" width="7.3" height="7.4" fill="#00008c"/>
<rect x="140.2" y="452.2" width="7.0" height="7.4" fill="#00008c"/>
<rect x="155.1" y="428.1" width="7.8" height="7.6" fill="#00008c"/>
<rect x="218.1" y="477.9" width="8.0" height="7.9" fill="#00008c"/>
<text transform="translate(523.44,34.95) scale(0.2592,0.2522)" font-size="100"  fill="#000">Au</text>
<text transform="translate(590.17,35.35) scale(0.2314,0.2485)" font-size="100"  fill="#000"><tspan font-style="italic">n</tspan>BT</text>
<text transform="translate(657.95,35.12) scale(0.2490,0.2403)" font-size="100"  fill="#000">PVDF</text>
<text transform="translate(143.78,50.97) scale(0.2366,0.1681)" font-size="100"  fill="#000" stroke="#000" stroke-width="0.49" stroke-linejoin="round">β</text>
<text transform="translate(158.17,50.57) scale(0.1828,0.1632)" font-size="100" font-weight="bold" fill="#000">(110)</text>
<text transform="translate(104.00,109.94) scale(0.1976,0.1791)" font-size="100"  fill="#000" stroke="#000" stroke-width="1.06" stroke-linejoin="round">γ</text>
<text transform="translate(115.76,109.27) scale(0.1841,0.1662)" font-size="100" font-weight="bold" fill="#000">(020)</text>
<text transform="translate(194.16,104.92) scale(0.2098,0.1792)" font-size="100" font-weight="bold" fill="#000">α</text>
<text transform="translate(210.08,104.75) scale(0.1793,0.1765)" font-size="100" font-weight="bold" fill="#000">(021)</text>
<text transform="translate(295.84,106.08) scale(0.2268,0.1725)" font-size="100"  fill="#000" stroke="#000" stroke-width="0.50" stroke-linejoin="round">β</text>
<text transform="translate(309.99,105.27) scale(0.1779,0.1662)" font-size="100" font-weight="bold" fill="#000">(200)</text>
<text transform="translate(83.55,167.44) scale(0.2137,0.1646)" font-size="100" font-weight="bold" fill="#000">α</text>
<text transform="translate(98.59,167.27) scale(0.1784,0.1662)" font-size="100" font-weight="bold" fill="#000">(100)</text>
<text transform="translate(520.46,232.76) scale(0.1852,0.1544)" font-size="100"  fill="#000" stroke="#000" stroke-width="0.71" stroke-linejoin="round"><tspan font-style="italic">n</tspan>Au-<tspan font-style="italic">n</tspan>BT/PVDF (50 vol%)</text>
<text transform="translate(520.46,277.93) scale(0.1852,0.1556)" font-size="100"  fill="#000" stroke="#000" stroke-width="0.70" stroke-linejoin="round"><tspan font-style="italic">n</tspan>Au-<tspan font-style="italic">n</tspan>BT/PVDF (40 vol%)</text>
<text transform="translate(520.46,330.83) scale(0.1852,0.1556)" font-size="100"  fill="#000" stroke="#000" stroke-width="0.70" stroke-linejoin="round"><tspan font-style="italic">n</tspan>Au-<tspan font-style="italic">n</tspan>BT/PVDF (30 vol%)</text>
<text transform="translate(520.46,381.93) scale(0.1852,0.1556)" font-size="100"  fill="#000" stroke="#000" stroke-width="0.70" stroke-linejoin="round"><tspan font-style="italic">n</tspan>Au-<tspan font-style="italic">n</tspan>BT/PVDF (20 vol%)</text>
<text transform="translate(520.46,440.56) scale(0.1852,0.1589)" font-size="100"  fill="#000" stroke="#000" stroke-width="0.70" stroke-linejoin="round"><tspan font-style="italic">n</tspan>Au-<tspan font-style="italic">n</tspan>BT/PVDF (10 vol%)</text>
<text transform="translate(660.93,495.54) scale(0.2229,0.2284)" font-size="100"  fill="#000">PVDF</text>
<text transform="translate(88.30,476.54) scale(0.1745,0.1794)" font-size="100" font-weight="bold" fill="#000" stroke="#fff" stroke-width="1.70" stroke-linejoin="round">(100)</text>
<text transform="translate(101.19,451.54) scale(0.1764,0.1794)" font-size="100" font-weight="bold" fill="#000" stroke="#fff" stroke-width="1.69" stroke-linejoin="round">(020)</text>
<text transform="translate(165.17,438.53) scale(0.1837,0.1853)" font-size="100" font-weight="bold" fill="#000" stroke="#fff" stroke-width="1.63" stroke-linejoin="round">(110)</text>
<text transform="translate(230.51,485.44) scale(0.1731,0.1824)" font-size="100" font-weight="bold" fill="#000" stroke="#fff" stroke-width="1.69" stroke-linejoin="round">(021)</text>
<text transform="translate(45.53,566.74) scale(0.3080,0.2809)" font-size="100"  fill="#000">10</text>
<text transform="translate(141.03,566.74) scale(0.2913,0.2809)" font-size="100"  fill="#000">20</text>
<text transform="translate(235.73,566.74) scale(0.2945,0.2809)" font-size="100"  fill="#000">30</text>
<text transform="translate(332.78,566.74) scale(0.2851,0.2809)" font-size="100"  fill="#000">40</text>
<text transform="translate(426.31,566.74) scale(0.2978,0.2809)" font-size="100"  fill="#000">50</text>
<text transform="translate(523.33,566.74) scale(0.2913,0.2809)" font-size="100"  fill="#000">60</text>
<text transform="translate(617.01,566.74) scale(0.2978,0.2809)" font-size="100"  fill="#000">70</text>
<text transform="translate(714.03,566.74) scale(0.2913,0.2809)" font-size="100"  fill="#000">80</text>
<text transform="translate(281.13,616.76) scale(0.4667,0.4352)" font-size="100"  fill="#000" stroke="#fff" stroke-width="0.22" stroke-linejoin="round">2θ</text>
<text transform="translate(333.99,613.62) scale(0.4775,0.4611)" font-size="100"  fill="#000" stroke="#fff" stroke-width="0.21" stroke-linejoin="round">(degree)</text>
<text transform="translate(41.77,407.18) rotate(-90) scale(0.4942,0.4874)" font-size="100"  fill="#000" stroke="#fff" stroke-width="1.43" stroke-linejoin="round">Intensity</text>
<text transform="translate(40.43,220.78) rotate(-90) scale(0.4700,0.4511)" font-size="100"  fill="#000" stroke="#fff" stroke-width="1.52" stroke-linejoin="round">(a.u.)</text>
<text transform="translate(184.69,173.80) rotate(-90) scale(0.1490,0.1529)" font-size="100" font-weight="bold" fill="#000" stroke="#fff" stroke-width="0.79" stroke-linejoin="round">(100)</text>
<text transform="translate(274.21,53.49) rotate(-90) scale(0.1463,0.1426)" font-size="100" font-weight="bold" fill="#000" stroke="#fff" stroke-width="0.83" stroke-linejoin="round">(110)</text>
<text transform="translate(345.30,155.21) rotate(-90) scale(0.1533,0.1515)" font-size="100" font-weight="bold" fill="#000" stroke="#fff" stroke-width="0.79" stroke-linejoin="round">(111)</text>
<text transform="translate(332.50,181.81) rotate(-90) scale(0.1533,0.1485)" font-size="100" font-weight="bold" fill="#c42030" stroke="#fff" stroke-width="0.80" stroke-linejoin="round">(111)</text>
<text transform="translate(406.51,155.89) rotate(-90) scale(0.1486,0.1471)" font-size="100" font-weight="bold" fill="#000" stroke="#fff" stroke-width="0.81" stroke-linejoin="round">(200)</text>
<text transform="translate(392.50,185.39) rotate(-90) scale(0.1486,0.1485)" font-size="100" font-weight="bold" fill="#c42030" stroke="#fff" stroke-width="0.81" stroke-linejoin="round">(200)</text>
<text transform="translate(456.11,187.48) rotate(-90) scale(0.1452,0.1426)" font-size="100" font-weight="bold" fill="#000" stroke="#fff" stroke-width="0.83" stroke-linejoin="round">(210)</text>
<text transform="translate(505.15,158.01) rotate(-90) scale(0.1522,0.1493)" font-size="100" font-weight="bold" fill="#000" stroke="#fff" stroke-width="0.80" stroke-linejoin="round">(211)</text>
<text transform="translate(595.11,178.79) rotate(-90) scale(0.1486,0.1426)" font-size="100" font-weight="bold" fill="#c42030" stroke="#fff" stroke-width="0.82" stroke-linejoin="round">(220)</text>
<text transform="translate(609.01,189.27) rotate(-90) scale(0.1437,0.1426)" font-size="100" font-weight="bold" fill="#000" stroke="#fff" stroke-width="0.84" stroke-linejoin="round">(220)</text>
<text transform="translate(644.31,194.58) rotate(-90) scale(0.1452,0.1426)" font-size="100" font-weight="bold" fill="#000" stroke="#fff" stroke-width="0.83" stroke-linejoin="round">(300)</text>
<text transform="translate(681.11,185.98) rotate(-90) scale(0.1453,0.1471)" font-size="100" font-weight="bold" fill="#c42030" stroke="#fff" stroke-width="0.82" stroke-linejoin="round">(311)</text>
<text transform="translate(693.80,194.58) rotate(-90) scale(0.1453,0.1500)" font-size="100" font-weight="bold" fill="#000" stroke="#fff" stroke-width="0.81" stroke-linejoin="round">(311)</text>
<text transform="translate(724.46,193.89) rotate(-90) scale(0.1486,0.1448)" font-size="100" font-weight="bold" fill="#000" stroke="#fff" stroke-width="0.82" stroke-linejoin="round">(222)</text>
</svg></body></html>
